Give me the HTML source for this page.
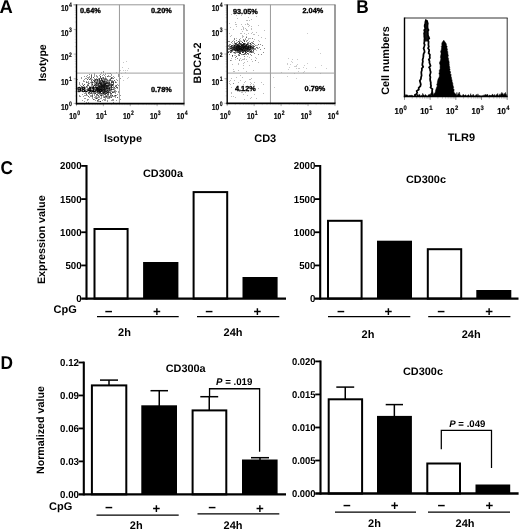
<!DOCTYPE html>
<html lang="en">
<head>
<meta charset="utf-8">
<title>Figure</title>
<style>
html,body{margin:0;padding:0;background:#fff;}
svg{display:block;font-family:"Liberation Sans", Arial, sans-serif;text-rendering:geometricPrecision;}
</style>
</head>
<body>
<svg width="520" height="529" viewBox="0 0 520 529">
<rect x="0" y="0" width="520" height="529" fill="#fff"/>
<text transform="translate(-0.40,12.70) scale(0.99,1)" font-size="18.6" font-weight="bold">A</text>
<text transform="translate(356.30,13.30) scale(0.93,1)" font-size="18.6" font-weight="bold">B</text>
<text transform="translate(0.40,174.20) scale(0.93,1)" font-size="18.6" font-weight="bold">C</text>
<text transform="translate(0.40,369.40) scale(0.93,1)" font-size="18.6" font-weight="bold">D</text>
<path d="M79 95.5h1M80 85.5h1M80 90.5h1M81 86.5h1M82 89.5h1M82 94.5h1M83 85.5h1M83 87.5h1M83 89.5h1M83 96.5h1M84 76.5h1M84 79.5h1M84 86.5h1M84 91.5h1M84 93.5h1M84 98.5h1M85 88.5h1M85 89.5h1M85 91.5h1M85 98.5h1M86 76.5h1M86 78.5h1M86 89.5h1M87 84.5h1M87 91.5h1M88 83.5h1M88 92.5h1M88 102.5h1M89 74.5h1M89 79.5h1M89 86.5h1M89 87.5h1M89 89.5h1M89 92.5h1M89 94.5h1M89 97.5h1M90 90.5h1M90 93.5h1M90 95.5h1M91 75.5h1M91 76.5h1M91 80.5h1M91 84.5h1M91 87.5h1M91 91.5h1M91 92.5h1M91 96.5h1M92 86.5h1M92 90.5h1M92 95.5h1M92 96.5h1M93 80.5h1M93 92.5h1M93 93.5h1M94 81.5h1M94 83.5h1M95 79.5h1M95 80.5h1M95 84.5h1M95 85.5h1M95 86.5h1M95 87.5h1M95 90.5h1M95 92.5h1M96 82.5h1M96 83.5h1M96 85.5h1M96 90.5h1M96 96.5h1M96 98.5h1M97 77.5h1M97 79.5h1M97 81.5h1M97 83.5h1M97 84.5h1M97 85.5h1M97 87.5h1M97 89.5h1M97 90.5h1M97 91.5h1M97 92.5h1M97 94.5h1M97 98.5h1M98 80.5h1M98 83.5h1M98 84.5h1M98 87.5h1M98 88.5h1M98 89.5h1M98 90.5h1M98 91.5h1M98 93.5h1M99 79.5h1M99 81.5h1M99 83.5h1M99 86.5h1M99 87.5h1M99 89.5h1M99 90.5h1M99 92.5h1M99 93.5h1M99 94.5h1M100 77.5h1M100 81.5h1M100 82.5h1M100 83.5h1M100 84.5h1M100 86.5h1M100 87.5h1M100 88.5h1M100 89.5h1M100 90.5h1M100 92.5h1M100 93.5h1M100 94.5h1M100 95.5h1M101 72.5h1M101 78.5h1M101 82.5h1M101 84.5h1M101 85.5h1M101 86.5h1M101 87.5h1M101 88.5h1M101 89.5h1M101 90.5h1M101 91.5h1M101 93.5h1M101 98.5h1M102 75.5h1M102 77.5h1M102 78.5h1M102 80.5h1M102 81.5h1M102 85.5h1M102 86.5h1M102 87.5h1M102 90.5h1M102 91.5h1M103 78.5h1M103 81.5h1M103 82.5h1M103 84.5h1M103 85.5h1M103 86.5h1M103 87.5h1M103 88.5h1M103 89.5h1M103 90.5h1M103 91.5h1M103 92.5h1M103 93.5h1M103 94.5h1M104 78.5h1M104 79.5h1M104 80.5h1M104 81.5h1M104 83.5h1M104 84.5h1M104 85.5h1M104 86.5h1M104 87.5h1M104 88.5h1M104 89.5h1M104 90.5h1M104 91.5h1M104 92.5h1M104 93.5h1M104 96.5h1M104 97.5h1M105 73.5h1M105 78.5h1M105 82.5h1M105 83.5h1M105 84.5h1M105 85.5h1M105 86.5h1M105 87.5h1M105 89.5h1M105 97.5h1M105 99.5h1M106 79.5h1M106 82.5h1M106 83.5h1M106 85.5h1M106 86.5h1M106 88.5h1M106 90.5h1M106 93.5h1M107 76.5h1M107 79.5h1M107 80.5h1M107 84.5h1M107 85.5h1M107 86.5h1M107 87.5h1M107 88.5h1M107 90.5h1M107 91.5h1M107 92.5h1M107 94.5h1M107 100.5h1M107 101.5h1M108 83.5h1M108 84.5h1M108 85.5h1M108 86.5h1M108 88.5h1M108 91.5h1M108 95.5h1M109 82.5h1M109 83.5h1M109 84.5h1M109 86.5h1M109 87.5h1M109 88.5h1M109 89.5h1M109 90.5h1M109 96.5h1M110 85.5h1M110 87.5h1M110 92.5h1M111 75.5h1M111 78.5h1M111 82.5h1M111 84.5h1M111 85.5h1M111 86.5h1M111 87.5h1M111 88.5h1M111 89.5h1M111 94.5h1M111 95.5h1M112 95.5h1M112 99.5h1M113 84.5h1M113 85.5h1M113 86.5h1M113 92.5h1M114 77.5h1M114 87.5h1M114 91.5h1M115 96.5h1M116 79.5h1M116 85.5h1M116 86.5h1M116 87.5h1M116 95.5h1M116 100.5h1M117 94.5h1M118 74.5h1M120 95.5h1" stroke="#000" stroke-width="1" stroke-opacity="0.4" fill="none"/>
<path d="M77 79.5h1M79 87.5h1M79 96.5h1M80 96.5h1M84 84.5h1M85 91.5h1M85 93.5h1M85 95.5h1M86 82.5h1M86 86.5h1M86 93.5h1M86 94.5h1M86 102.5h1M87 77.5h1M87 79.5h1M87 85.5h1M87 87.5h1M87 89.5h1M87 95.5h1M88 78.5h1M88 81.5h1M88 85.5h1M88 93.5h1M90 87.5h1M90 88.5h1M91 79.5h1M91 80.5h1M91 82.5h1M91 89.5h1M91 90.5h1M91 91.5h1M91 93.5h1M92 82.5h1M92 83.5h1M92 88.5h1M92 89.5h1M92 90.5h1M92 95.5h1M92 98.5h1M93 85.5h1M93 86.5h1M93 89.5h1M94 75.5h1M94 76.5h1M94 79.5h1M94 85.5h1M94 91.5h1M95 86.5h1M95 87.5h1M95 89.5h1M95 93.5h1M96 75.5h1M96 76.5h1M96 81.5h1M96 85.5h1M96 87.5h1M96 88.5h1M96 90.5h1M96 91.5h1M96 92.5h1M96 94.5h1M96 95.5h1M96 97.5h1M97 76.5h1M97 79.5h1M97 80.5h1M97 81.5h1M97 82.5h1M97 88.5h1M97 89.5h1M98 82.5h1M98 83.5h1M98 84.5h1M98 85.5h1M98 86.5h1M98 87.5h1M98 88.5h1M98 90.5h1M98 91.5h1M98 92.5h1M98 93.5h1M98 95.5h1M98 96.5h1M98 99.5h1M98 101.5h1M99 75.5h1M99 80.5h1M99 81.5h1M99 82.5h1M99 84.5h1M99 86.5h1M99 87.5h1M99 88.5h1M99 89.5h1M99 90.5h1M99 91.5h1M99 101.5h1M100 80.5h1M100 81.5h1M100 82.5h1M100 83.5h1M100 84.5h1M100 85.5h1M100 89.5h1M100 91.5h1M100 93.5h1M101 78.5h1M101 79.5h1M101 82.5h1M101 83.5h1M101 84.5h1M101 85.5h1M101 86.5h1M101 87.5h1M101 88.5h1M101 89.5h1M101 90.5h1M101 91.5h1M101 93.5h1M101 95.5h1M101 96.5h1M101 97.5h1M102 80.5h1M102 81.5h1M102 83.5h1M102 84.5h1M102 85.5h1M102 86.5h1M102 87.5h1M102 88.5h1M102 89.5h1M102 90.5h1M102 92.5h1M102 93.5h1M102 94.5h1M103 81.5h1M103 83.5h1M103 84.5h1M103 85.5h1M103 86.5h1M103 87.5h1M103 89.5h1M103 91.5h1M103 92.5h1M103 93.5h1M103 95.5h1M104 81.5h1M104 82.5h1M104 84.5h1M104 85.5h1M104 86.5h1M104 87.5h1M104 88.5h1M104 89.5h1M104 90.5h1M104 91.5h1M104 92.5h1M104 93.5h1M104 100.5h1M105 76.5h1M105 77.5h1M105 79.5h1M105 83.5h1M105 84.5h1M105 85.5h1M105 86.5h1M105 89.5h1M105 90.5h1M105 91.5h1M105 92.5h1M105 93.5h1M105 95.5h1M105 96.5h1M106 79.5h1M106 81.5h1M106 82.5h1M106 83.5h1M106 84.5h1M106 85.5h1M106 86.5h1M106 87.5h1M106 88.5h1M106 90.5h1M106 91.5h1M106 93.5h1M106 95.5h1M106 96.5h1M106 97.5h1M107 80.5h1M107 82.5h1M107 83.5h1M107 86.5h1M107 87.5h1M107 88.5h1M107 89.5h1M107 92.5h1M107 93.5h1M107 97.5h1M107 98.5h1M108 73.5h1M108 75.5h1M108 76.5h1M108 82.5h1M108 85.5h1M108 86.5h1M108 87.5h1M108 89.5h1M108 90.5h1M108 91.5h1M108 92.5h1M108 96.5h1M108 98.5h1M109 80.5h1M109 83.5h1M109 85.5h1M109 87.5h1M109 88.5h1M109 89.5h1M109 90.5h1M110 73.5h1M110 78.5h1M110 79.5h1M110 80.5h1M110 86.5h1M110 89.5h1M110 90.5h1M110 91.5h1M110 93.5h1M110 94.5h1M111 77.5h1M111 82.5h1M111 83.5h1M111 86.5h1M111 93.5h1M111 96.5h1M111 97.5h1M112 77.5h1M112 78.5h1M112 81.5h1M112 84.5h1M112 89.5h1M112 92.5h1M112 100.5h1M113 78.5h1M113 81.5h1M113 83.5h1M113 89.5h1M113 92.5h1M113 96.5h1M113 99.5h1M114 80.5h1M114 87.5h1M115 81.5h1M115 92.5h1M115 95.5h1M116 87.5h1M117 80.5h1M117 87.5h1M117 88.5h1M120 99.5h1" stroke="#000" stroke-width="1" stroke-opacity="0.4" fill="none"/>
<path d="M79 83.5h1M82 86.5h1M83 80.5h1M84 84.5h1M84 87.5h1M84 88.5h1M84 90.5h1M86 82.5h1M86 87.5h1M87 75.5h1M87 79.5h1M87 86.5h1M87 88.5h1M87 89.5h1M88 83.5h1M88 84.5h1M88 85.5h1M88 88.5h1M88 90.5h1M88 92.5h1M88 93.5h1M88 96.5h1M89 76.5h1M89 77.5h1M90 78.5h1M90 87.5h1M91 75.5h1M91 76.5h1M91 77.5h1M91 82.5h1M91 86.5h1M91 95.5h1M92 81.5h1M92 84.5h1M92 91.5h1M93 77.5h1M93 86.5h1M93 87.5h1M93 88.5h1M93 90.5h1M94 78.5h1M94 81.5h1M94 85.5h1M94 88.5h1M94 94.5h1M94 97.5h1M95 85.5h1M95 90.5h1M95 91.5h1M95 93.5h1M95 97.5h1M95 98.5h1M96 80.5h1M96 82.5h1M96 83.5h1M96 85.5h1M96 88.5h1M96 90.5h1M96 98.5h1M97 80.5h1M97 82.5h1M97 86.5h1M97 88.5h1M97 89.5h1M97 90.5h1M97 91.5h1M97 93.5h1M97 97.5h1M97 100.5h1M97 101.5h1M98 78.5h1M98 83.5h1M98 85.5h1M98 86.5h1M98 88.5h1M98 91.5h1M98 97.5h1M98 99.5h1M99 78.5h1M99 79.5h1M99 80.5h1M99 81.5h1M99 82.5h1M99 83.5h1M99 85.5h1M99 86.5h1M99 87.5h1M99 90.5h1M99 92.5h1M99 99.5h1M100 74.5h1M100 76.5h1M100 83.5h1M100 84.5h1M100 85.5h1M100 86.5h1M100 87.5h1M100 88.5h1M100 89.5h1M100 92.5h1M100 101.5h1M101 73.5h1M101 79.5h1M101 80.5h1M101 81.5h1M101 83.5h1M101 84.5h1M101 85.5h1M101 86.5h1M101 87.5h1M101 88.5h1M101 93.5h1M101 94.5h1M101 95.5h1M102 80.5h1M102 82.5h1M102 84.5h1M102 85.5h1M102 86.5h1M102 87.5h1M102 88.5h1M102 89.5h1M102 90.5h1M102 91.5h1M103 77.5h1M103 78.5h1M103 81.5h1M103 82.5h1M103 83.5h1M103 84.5h1M103 85.5h1M103 86.5h1M103 87.5h1M103 88.5h1M103 89.5h1M103 90.5h1M103 92.5h1M103 97.5h1M104 80.5h1M104 82.5h1M104 83.5h1M104 84.5h1M104 85.5h1M104 86.5h1M104 87.5h1M104 88.5h1M104 89.5h1M104 90.5h1M104 91.5h1M104 94.5h1M104 99.5h1M105 81.5h1M105 82.5h1M105 83.5h1M105 84.5h1M105 86.5h1M105 87.5h1M105 88.5h1M105 91.5h1M105 96.5h1M105 98.5h1M106 80.5h1M106 82.5h1M106 83.5h1M106 85.5h1M106 86.5h1M106 87.5h1M106 88.5h1M106 89.5h1M106 91.5h1M106 92.5h1M106 93.5h1M106 96.5h1M107 73.5h1M107 83.5h1M107 85.5h1M107 86.5h1M107 87.5h1M107 88.5h1M107 90.5h1M107 92.5h1M107 94.5h1M108 81.5h1M108 83.5h1M108 87.5h1M108 88.5h1M108 90.5h1M108 92.5h1M108 93.5h1M108 94.5h1M109 76.5h1M109 79.5h1M109 80.5h1M109 81.5h1M109 88.5h1M109 90.5h1M109 92.5h1M109 96.5h1M110 73.5h1M110 76.5h1M110 80.5h1M110 84.5h1M110 85.5h1M110 89.5h1M110 96.5h1M110 97.5h1M111 74.5h1M111 80.5h1M111 84.5h1M111 86.5h1M111 87.5h1M111 88.5h1M111 89.5h1M111 90.5h1M111 100.5h1M112 82.5h1M112 85.5h1M112 87.5h1M112 89.5h1M112 91.5h1M112 92.5h1M112 95.5h1M113 82.5h1M113 84.5h1M113 100.5h1M114 88.5h1M114 89.5h1M114 96.5h1M115 85.5h1M115 86.5h1M115 91.5h1M115 93.5h1M115 95.5h1M116 82.5h1M117 97.5h1M118 76.5h1M119 79.5h1M119 89.5h1M120 78.5h1" stroke="#000" stroke-width="1" stroke-opacity="0.4" fill="none"/>
<path d="M79 82.5h1M79 84.5h1M81 78.5h1M82 84.5h1M82 87.5h1M82 100.5h1M83 85.5h1M84 81.5h1M84 88.5h1M84 91.5h1M84 95.5h1M84 101.5h1M85 78.5h1M85 87.5h1M85 90.5h1M85 91.5h1M85 92.5h1M86 81.5h1M86 91.5h1M86 94.5h1M87 82.5h1M87 90.5h1M87 100.5h1M88 77.5h1M88 96.5h1M89 79.5h1M89 83.5h1M89 88.5h1M89 89.5h1M89 91.5h1M89 92.5h1M89 93.5h1M90 90.5h1M90 93.5h1M91 74.5h1M91 77.5h1M91 78.5h1M91 81.5h1M91 85.5h1M91 87.5h1M91 88.5h1M91 93.5h1M92 79.5h1M92 82.5h1M92 84.5h1M92 85.5h1M92 91.5h1M92 93.5h1M93 77.5h1M93 82.5h1M93 86.5h1M93 90.5h1M93 91.5h1M93 99.5h1M94 74.5h1M94 80.5h1M94 81.5h1M94 82.5h1M94 85.5h1M94 93.5h1M94 99.5h1M95 79.5h1M95 80.5h1M95 82.5h1M95 83.5h1M95 84.5h1M95 89.5h1M95 90.5h1M95 93.5h1M95 96.5h1M96 78.5h1M96 79.5h1M96 83.5h1M96 84.5h1M96 86.5h1M96 87.5h1M96 88.5h1M96 98.5h1M97 79.5h1M97 83.5h1M97 85.5h1M97 87.5h1M97 88.5h1M97 92.5h1M97 95.5h1M98 79.5h1M98 84.5h1M98 86.5h1M98 87.5h1M98 88.5h1M98 95.5h1M98 100.5h1M99 79.5h1M99 82.5h1M99 83.5h1M99 85.5h1M99 86.5h1M99 91.5h1M99 92.5h1M99 97.5h1M100 76.5h1M100 81.5h1M100 82.5h1M100 83.5h1M100 84.5h1M100 86.5h1M100 88.5h1M100 91.5h1M100 92.5h1M100 98.5h1M100 101.5h1M101 78.5h1M101 80.5h1M101 83.5h1M101 84.5h1M101 85.5h1M101 86.5h1M101 87.5h1M101 89.5h1M101 95.5h1M102 80.5h1M102 81.5h1M102 83.5h1M102 85.5h1M102 86.5h1M102 88.5h1M102 89.5h1M102 90.5h1M102 91.5h1M102 95.5h1M103 71.5h1M103 74.5h1M103 77.5h1M103 79.5h1M103 81.5h1M103 82.5h1M103 83.5h1M103 85.5h1M103 86.5h1M103 87.5h1M103 88.5h1M103 89.5h1M103 90.5h1M103 91.5h1M103 92.5h1M103 93.5h1M103 96.5h1M104 79.5h1M104 81.5h1M104 82.5h1M104 83.5h1M104 84.5h1M104 85.5h1M104 86.5h1M104 87.5h1M104 88.5h1M104 89.5h1M104 90.5h1M104 91.5h1M104 92.5h1M104 94.5h1M104 97.5h1M105 74.5h1M105 83.5h1M105 84.5h1M105 85.5h1M105 86.5h1M105 87.5h1M105 88.5h1M105 89.5h1M105 90.5h1M105 91.5h1M105 92.5h1M105 93.5h1M105 94.5h1M105 100.5h1M106 83.5h1M106 85.5h1M106 86.5h1M106 87.5h1M106 88.5h1M106 89.5h1M106 91.5h1M106 93.5h1M106 96.5h1M107 76.5h1M107 82.5h1M107 85.5h1M107 88.5h1M107 90.5h1M107 92.5h1M107 95.5h1M108 80.5h1M108 82.5h1M108 83.5h1M108 84.5h1M108 85.5h1M108 86.5h1M108 88.5h1M108 91.5h1M108 92.5h1M108 93.5h1M108 97.5h1M109 73.5h1M109 82.5h1M109 84.5h1M109 85.5h1M109 87.5h1M109 88.5h1M109 89.5h1M109 91.5h1M109 97.5h1M109 98.5h1M110 84.5h1M110 88.5h1M110 93.5h1M110 95.5h1M111 77.5h1M111 78.5h1M111 81.5h1M111 82.5h1M111 84.5h1M111 85.5h1M111 89.5h1M111 93.5h1M112 80.5h1M112 84.5h1M112 85.5h1M112 92.5h1M113 76.5h1M113 82.5h1M113 102.5h1M114 80.5h1M114 90.5h1M114 92.5h1M114 95.5h1M115 82.5h1M115 95.5h1M115 97.5h1M116 85.5h1M116 91.5h1M117 87.5h1M117 97.5h1M118 75.5h1M118 85.5h1M118 92.5h1" stroke="#000" stroke-width="1" stroke-opacity="0.4" fill="none"/>
<path d="M79 87.5h1M79 88.5h1M81 77.5h1M81 86.5h1M81 87.5h1M82 83.5h1M82 88.5h1M82 90.5h1M83 81.5h1M83 85.5h1M85 90.5h1M86 86.5h1M86 95.5h1M87 85.5h1M87 99.5h1M88 82.5h1M88 99.5h1M89 90.5h1M89 92.5h1M90 78.5h1M90 79.5h1M90 82.5h1M90 90.5h1M90 96.5h1M91 83.5h1M91 92.5h1M92 82.5h1M92 84.5h1M92 87.5h1M92 88.5h1M92 90.5h1M92 94.5h1M92 96.5h1M92 97.5h1M93 80.5h1M93 88.5h1M93 89.5h1M93 90.5h1M93 99.5h1M94 73.5h1M94 80.5h1M94 81.5h1M94 84.5h1M94 85.5h1M94 87.5h1M94 89.5h1M94 92.5h1M94 93.5h1M94 95.5h1M95 79.5h1M95 81.5h1M95 82.5h1M95 84.5h1M95 87.5h1M95 90.5h1M95 91.5h1M95 100.5h1M96 79.5h1M96 82.5h1M96 83.5h1M96 84.5h1M96 88.5h1M96 89.5h1M96 90.5h1M96 94.5h1M97 80.5h1M97 84.5h1M97 87.5h1M97 88.5h1M97 90.5h1M97 94.5h1M97 100.5h1M98 81.5h1M98 85.5h1M98 86.5h1M98 89.5h1M98 90.5h1M98 91.5h1M98 92.5h1M99 78.5h1M99 79.5h1M99 80.5h1M99 82.5h1M99 83.5h1M99 85.5h1M99 86.5h1M99 89.5h1M99 90.5h1M99 91.5h1M99 92.5h1M99 93.5h1M99 96.5h1M100 76.5h1M100 77.5h1M100 78.5h1M100 80.5h1M100 83.5h1M100 85.5h1M100 86.5h1M100 89.5h1M100 90.5h1M100 91.5h1M100 92.5h1M100 95.5h1M100 101.5h1M101 78.5h1M101 79.5h1M101 80.5h1M101 82.5h1M101 83.5h1M101 84.5h1M101 85.5h1M101 86.5h1M101 87.5h1M101 88.5h1M101 89.5h1M101 90.5h1M101 91.5h1M102 79.5h1M102 81.5h1M102 82.5h1M102 84.5h1M102 85.5h1M102 86.5h1M102 87.5h1M102 88.5h1M102 89.5h1M102 90.5h1M102 92.5h1M102 93.5h1M102 100.5h1M103 72.5h1M103 80.5h1M103 82.5h1M103 84.5h1M103 85.5h1M103 86.5h1M103 87.5h1M103 89.5h1M103 93.5h1M103 99.5h1M104 75.5h1M104 81.5h1M104 83.5h1M104 84.5h1M104 85.5h1M104 86.5h1M104 87.5h1M104 88.5h1M104 89.5h1M104 90.5h1M104 92.5h1M105 78.5h1M105 79.5h1M105 80.5h1M105 81.5h1M105 83.5h1M105 84.5h1M105 85.5h1M105 88.5h1M105 89.5h1M105 90.5h1M105 91.5h1M105 93.5h1M105 94.5h1M106 78.5h1M106 81.5h1M106 85.5h1M106 87.5h1M106 88.5h1M106 91.5h1M106 92.5h1M107 81.5h1M107 82.5h1M107 83.5h1M107 85.5h1M107 86.5h1M107 88.5h1M107 89.5h1M107 90.5h1M107 91.5h1M107 92.5h1M107 96.5h1M108 85.5h1M108 89.5h1M108 94.5h1M109 82.5h1M109 83.5h1M109 84.5h1M109 85.5h1M109 88.5h1M109 92.5h1M109 97.5h1M110 79.5h1M110 83.5h1M110 87.5h1M110 90.5h1M110 92.5h1M110 95.5h1M111 78.5h1M111 81.5h1M111 85.5h1M111 86.5h1M111 87.5h1M111 89.5h1M111 91.5h1M111 97.5h1M112 81.5h1M112 82.5h1M112 84.5h1M112 85.5h1M112 87.5h1M112 95.5h1M112 96.5h1M113 81.5h1M113 82.5h1M113 83.5h1M113 87.5h1M113 88.5h1M113 89.5h1M113 91.5h1M114 91.5h1M115 82.5h1M115 86.5h1M115 88.5h1M115 90.5h1M117 84.5h1M118 91.5h1" stroke="#000" stroke-width="1" stroke-opacity="0.4" fill="none"/>
<path d="M113 78.5h1M116 72.5h1M120 70.5h1M121 73.5h1M122 67.5h1M122 76.5h1M123 62.5h1M123 70.5h1M123 80.5h1M125 70.5h1M125 72.5h1M126 61.5h1M127 70.5h1M127 78.5h1M128 68.5h1M128 77.5h1" stroke="#000" stroke-width="1" stroke-opacity="0.22" fill="none"/>
<line x1="73.50" y1="4.80" x2="184.50" y2="4.80" stroke="#989898" stroke-width="1" />
<line x1="184.00" y1="4.80" x2="184.00" y2="103.40" stroke="#5c5c5c" stroke-width="1.2" />
<line x1="119.45" y1="4.80" x2="119.45" y2="103.40" stroke="#9a9a9a" stroke-width="1" />
<line x1="76.50" y1="73.10" x2="184.00" y2="73.10" stroke="#a0a0a0" stroke-width="1" />
<line x1="76.50" y1="103.40" x2="76.50" y2="106.20" stroke="#a8a8a8" stroke-width="0.9" />
<line x1="73.70" y1="103.40" x2="76.50" y2="103.40" stroke="#a8a8a8" stroke-width="0.9" />
<line x1="84.59" y1="103.40" x2="84.59" y2="105.20" stroke="#d4d4d4" stroke-width="0.7" />
<line x1="74.70" y1="95.98" x2="76.50" y2="95.98" stroke="#d4d4d4" stroke-width="0.7" />
<line x1="89.32" y1="103.40" x2="89.32" y2="105.20" stroke="#d4d4d4" stroke-width="0.7" />
<line x1="74.70" y1="91.64" x2="76.50" y2="91.64" stroke="#d4d4d4" stroke-width="0.7" />
<line x1="92.68" y1="103.40" x2="92.68" y2="105.20" stroke="#d4d4d4" stroke-width="0.7" />
<line x1="74.70" y1="88.56" x2="76.50" y2="88.56" stroke="#d4d4d4" stroke-width="0.7" />
<line x1="95.28" y1="103.40" x2="95.28" y2="105.20" stroke="#d4d4d4" stroke-width="0.7" />
<line x1="74.70" y1="86.17" x2="76.50" y2="86.17" stroke="#d4d4d4" stroke-width="0.7" />
<line x1="97.41" y1="103.40" x2="97.41" y2="105.20" stroke="#d4d4d4" stroke-width="0.7" />
<line x1="74.70" y1="84.22" x2="76.50" y2="84.22" stroke="#d4d4d4" stroke-width="0.7" />
<line x1="99.21" y1="103.40" x2="99.21" y2="105.20" stroke="#d4d4d4" stroke-width="0.7" />
<line x1="74.70" y1="82.57" x2="76.50" y2="82.57" stroke="#d4d4d4" stroke-width="0.7" />
<line x1="100.77" y1="103.40" x2="100.77" y2="105.20" stroke="#d4d4d4" stroke-width="0.7" />
<line x1="74.70" y1="81.14" x2="76.50" y2="81.14" stroke="#d4d4d4" stroke-width="0.7" />
<line x1="102.15" y1="103.40" x2="102.15" y2="105.20" stroke="#d4d4d4" stroke-width="0.7" />
<line x1="74.70" y1="79.88" x2="76.50" y2="79.88" stroke="#d4d4d4" stroke-width="0.7" />
<text transform="translate(76.80,119.00) scale(0.79,1)" font-size="8.6" text-anchor="end" font-weight="bold" stroke="#000" stroke-width="0.2">10</text>
<text transform="translate(77.15,115.30) scale(0.79,1)" font-size="6.54" text-anchor="start" font-weight="bold" stroke="#000" stroke-width="0.15">0</text>
<text transform="translate(68.60,109.70) scale(0.79,1)" font-size="8.6" text-anchor="end" font-weight="bold" stroke="#000" stroke-width="0.2">10</text>
<text transform="translate(68.95,106.00) scale(0.79,1)" font-size="6.54" text-anchor="start" font-weight="bold" stroke="#000" stroke-width="0.15">0</text>
<line x1="103.38" y1="103.40" x2="103.38" y2="106.20" stroke="#a8a8a8" stroke-width="0.9" />
<line x1="73.70" y1="78.75" x2="76.50" y2="78.75" stroke="#a8a8a8" stroke-width="0.9" />
<line x1="111.47" y1="103.40" x2="111.47" y2="105.20" stroke="#d4d4d4" stroke-width="0.7" />
<line x1="74.70" y1="71.33" x2="76.50" y2="71.33" stroke="#d4d4d4" stroke-width="0.7" />
<line x1="116.20" y1="103.40" x2="116.20" y2="105.20" stroke="#d4d4d4" stroke-width="0.7" />
<line x1="74.70" y1="66.99" x2="76.50" y2="66.99" stroke="#d4d4d4" stroke-width="0.7" />
<line x1="119.56" y1="103.40" x2="119.56" y2="105.20" stroke="#d4d4d4" stroke-width="0.7" />
<line x1="74.70" y1="63.91" x2="76.50" y2="63.91" stroke="#d4d4d4" stroke-width="0.7" />
<line x1="122.16" y1="103.40" x2="122.16" y2="105.20" stroke="#d4d4d4" stroke-width="0.7" />
<line x1="74.70" y1="61.52" x2="76.50" y2="61.52" stroke="#d4d4d4" stroke-width="0.7" />
<line x1="124.29" y1="103.40" x2="124.29" y2="105.20" stroke="#d4d4d4" stroke-width="0.7" />
<line x1="74.70" y1="59.57" x2="76.50" y2="59.57" stroke="#d4d4d4" stroke-width="0.7" />
<line x1="126.09" y1="103.40" x2="126.09" y2="105.20" stroke="#d4d4d4" stroke-width="0.7" />
<line x1="74.70" y1="57.92" x2="76.50" y2="57.92" stroke="#d4d4d4" stroke-width="0.7" />
<line x1="127.65" y1="103.40" x2="127.65" y2="105.20" stroke="#d4d4d4" stroke-width="0.7" />
<line x1="74.70" y1="56.49" x2="76.50" y2="56.49" stroke="#d4d4d4" stroke-width="0.7" />
<line x1="129.02" y1="103.40" x2="129.02" y2="105.20" stroke="#d4d4d4" stroke-width="0.7" />
<line x1="74.70" y1="55.23" x2="76.50" y2="55.23" stroke="#d4d4d4" stroke-width="0.7" />
<text transform="translate(103.67,119.00) scale(0.79,1)" font-size="8.6" text-anchor="end" font-weight="bold" stroke="#000" stroke-width="0.2">10</text>
<text transform="translate(104.02,115.30) scale(0.79,1)" font-size="6.54" text-anchor="start" font-weight="bold" stroke="#000" stroke-width="0.15">1</text>
<text transform="translate(68.60,85.05) scale(0.79,1)" font-size="8.6" text-anchor="end" font-weight="bold" stroke="#000" stroke-width="0.2">10</text>
<text transform="translate(68.95,81.35) scale(0.79,1)" font-size="6.54" text-anchor="start" font-weight="bold" stroke="#000" stroke-width="0.15">1</text>
<line x1="130.25" y1="103.40" x2="130.25" y2="106.20" stroke="#a8a8a8" stroke-width="0.9" />
<line x1="73.70" y1="54.10" x2="76.50" y2="54.10" stroke="#a8a8a8" stroke-width="0.9" />
<line x1="138.34" y1="103.40" x2="138.34" y2="105.20" stroke="#d4d4d4" stroke-width="0.7" />
<line x1="74.70" y1="46.68" x2="76.50" y2="46.68" stroke="#d4d4d4" stroke-width="0.7" />
<line x1="143.07" y1="103.40" x2="143.07" y2="105.20" stroke="#d4d4d4" stroke-width="0.7" />
<line x1="74.70" y1="42.34" x2="76.50" y2="42.34" stroke="#d4d4d4" stroke-width="0.7" />
<line x1="146.43" y1="103.40" x2="146.43" y2="105.20" stroke="#d4d4d4" stroke-width="0.7" />
<line x1="74.70" y1="39.26" x2="76.50" y2="39.26" stroke="#d4d4d4" stroke-width="0.7" />
<line x1="149.03" y1="103.40" x2="149.03" y2="105.20" stroke="#d4d4d4" stroke-width="0.7" />
<line x1="74.70" y1="36.87" x2="76.50" y2="36.87" stroke="#d4d4d4" stroke-width="0.7" />
<line x1="151.16" y1="103.40" x2="151.16" y2="105.20" stroke="#d4d4d4" stroke-width="0.7" />
<line x1="74.70" y1="34.92" x2="76.50" y2="34.92" stroke="#d4d4d4" stroke-width="0.7" />
<line x1="152.96" y1="103.40" x2="152.96" y2="105.20" stroke="#d4d4d4" stroke-width="0.7" />
<line x1="74.70" y1="33.27" x2="76.50" y2="33.27" stroke="#d4d4d4" stroke-width="0.7" />
<line x1="154.52" y1="103.40" x2="154.52" y2="105.20" stroke="#d4d4d4" stroke-width="0.7" />
<line x1="74.70" y1="31.84" x2="76.50" y2="31.84" stroke="#d4d4d4" stroke-width="0.7" />
<line x1="155.90" y1="103.40" x2="155.90" y2="105.20" stroke="#d4d4d4" stroke-width="0.7" />
<line x1="74.70" y1="30.58" x2="76.50" y2="30.58" stroke="#d4d4d4" stroke-width="0.7" />
<text transform="translate(130.55,119.00) scale(0.79,1)" font-size="8.6" text-anchor="end" font-weight="bold" stroke="#000" stroke-width="0.2">10</text>
<text transform="translate(130.90,115.30) scale(0.79,1)" font-size="6.54" text-anchor="start" font-weight="bold" stroke="#000" stroke-width="0.15">2</text>
<text transform="translate(68.60,60.40) scale(0.79,1)" font-size="8.6" text-anchor="end" font-weight="bold" stroke="#000" stroke-width="0.2">10</text>
<text transform="translate(68.95,56.70) scale(0.79,1)" font-size="6.54" text-anchor="start" font-weight="bold" stroke="#000" stroke-width="0.15">2</text>
<line x1="157.12" y1="103.40" x2="157.12" y2="106.20" stroke="#a8a8a8" stroke-width="0.9" />
<line x1="73.70" y1="29.45" x2="76.50" y2="29.45" stroke="#a8a8a8" stroke-width="0.9" />
<line x1="165.22" y1="103.40" x2="165.22" y2="105.20" stroke="#d4d4d4" stroke-width="0.7" />
<line x1="74.70" y1="22.03" x2="76.50" y2="22.03" stroke="#d4d4d4" stroke-width="0.7" />
<line x1="169.95" y1="103.40" x2="169.95" y2="105.20" stroke="#d4d4d4" stroke-width="0.7" />
<line x1="74.70" y1="17.69" x2="76.50" y2="17.69" stroke="#d4d4d4" stroke-width="0.7" />
<line x1="173.31" y1="103.40" x2="173.31" y2="105.20" stroke="#d4d4d4" stroke-width="0.7" />
<line x1="74.70" y1="14.61" x2="76.50" y2="14.61" stroke="#d4d4d4" stroke-width="0.7" />
<line x1="175.91" y1="103.40" x2="175.91" y2="105.20" stroke="#d4d4d4" stroke-width="0.7" />
<line x1="74.70" y1="12.22" x2="76.50" y2="12.22" stroke="#d4d4d4" stroke-width="0.7" />
<line x1="178.04" y1="103.40" x2="178.04" y2="105.20" stroke="#d4d4d4" stroke-width="0.7" />
<line x1="74.70" y1="10.27" x2="76.50" y2="10.27" stroke="#d4d4d4" stroke-width="0.7" />
<line x1="179.84" y1="103.40" x2="179.84" y2="105.20" stroke="#d4d4d4" stroke-width="0.7" />
<line x1="74.70" y1="8.62" x2="76.50" y2="8.62" stroke="#d4d4d4" stroke-width="0.7" />
<line x1="181.40" y1="103.40" x2="181.40" y2="105.20" stroke="#d4d4d4" stroke-width="0.7" />
<line x1="74.70" y1="7.19" x2="76.50" y2="7.19" stroke="#d4d4d4" stroke-width="0.7" />
<line x1="182.77" y1="103.40" x2="182.77" y2="105.20" stroke="#d4d4d4" stroke-width="0.7" />
<line x1="74.70" y1="5.93" x2="76.50" y2="5.93" stroke="#d4d4d4" stroke-width="0.7" />
<text transform="translate(157.43,119.00) scale(0.79,1)" font-size="8.6" text-anchor="end" font-weight="bold" stroke="#000" stroke-width="0.2">10</text>
<text transform="translate(157.78,115.30) scale(0.79,1)" font-size="6.54" text-anchor="start" font-weight="bold" stroke="#000" stroke-width="0.15">3</text>
<text transform="translate(68.60,35.75) scale(0.79,1)" font-size="8.6" text-anchor="end" font-weight="bold" stroke="#000" stroke-width="0.2">10</text>
<text transform="translate(68.95,32.05) scale(0.79,1)" font-size="6.54" text-anchor="start" font-weight="bold" stroke="#000" stroke-width="0.15">3</text>
<line x1="184.00" y1="103.40" x2="184.00" y2="106.20" stroke="#a8a8a8" stroke-width="0.9" />
<line x1="73.70" y1="4.80" x2="76.50" y2="4.80" stroke="#a8a8a8" stroke-width="0.9" />
<text transform="translate(184.30,119.00) scale(0.79,1)" font-size="8.6" text-anchor="end" font-weight="bold" stroke="#000" stroke-width="0.2">10</text>
<text transform="translate(184.65,115.30) scale(0.79,1)" font-size="6.54" text-anchor="start" font-weight="bold" stroke="#000" stroke-width="0.15">4</text>
<text transform="translate(68.60,11.10) scale(0.79,1)" font-size="8.6" text-anchor="end" font-weight="bold" stroke="#000" stroke-width="0.2">10</text>
<text transform="translate(68.95,7.40) scale(0.79,1)" font-size="6.54" text-anchor="start" font-weight="bold" stroke="#000" stroke-width="0.15">4</text>
<line x1="76.50" y1="4.40" x2="76.50" y2="104.40" stroke="#000" stroke-width="1.4" />
<line x1="75.80" y1="103.55" x2="184.50" y2="103.55" stroke="#000" stroke-width="1.7" />
<text x="80.00" y="13.20" font-size="7.3" text-anchor="start" font-weight="bold" fill="#000"  stroke="#000" stroke-width="0.35">0.64%</text>
<text x="151.00" y="13.20" font-size="7.3" text-anchor="start" font-weight="bold" fill="#000"  stroke="#000" stroke-width="0.35">0.20%</text>
<text x="151.00" y="91.50" font-size="7.3" text-anchor="start" font-weight="bold" fill="#000"  stroke="#000" stroke-width="0.35">0.78%</text>
<text x="77.30" y="91.50" font-size="7.3" text-anchor="start" font-weight="bold" fill="#000"  stroke="#000" stroke-width="0.35">98.41%</text>
<text transform="translate(45.80,62.80) rotate(-90)" font-size="10.6" text-anchor="middle" font-weight="bold">Isotype</text>
<text x="123.00" y="142.30" font-size="10.9" text-anchor="middle" font-weight="bold" fill="#000" >Isotype</text>
<path d="M228 51.5h1M228 52.5h1M229 44.5h1M229 46.5h1M229 47.5h1M230 44.5h1M230 50.5h1M231 47.5h1M231 48.5h1M231 51.5h1M231 52.5h1M232 45.5h1M232 50.5h1M232 55.5h1M233 46.5h1M233 47.5h1M233 48.5h1M233 52.5h1M234 45.5h1M234 46.5h1M234 47.5h1M234 49.5h1M234 50.5h1M234 52.5h1M235 43.5h1M235 44.5h1M235 45.5h1M235 47.5h1M235 50.5h1M236 43.5h1M236 44.5h1M236 45.5h1M236 46.5h1M236 47.5h1M236 48.5h1M236 49.5h1M237 44.5h1M237 46.5h1M237 47.5h1M237 48.5h1M237 49.5h1M237 50.5h1M238 41.5h1M238 45.5h1M238 46.5h1M238 47.5h1M238 48.5h1M238 49.5h1M238 50.5h1M238 54.5h1M239 43.5h1M239 46.5h1M239 47.5h1M239 48.5h1M239 49.5h1M239 51.5h1M239 53.5h1M240 43.5h1M240 46.5h1M240 47.5h1M240 48.5h1M240 49.5h1M240 52.5h1M241 44.5h1M241 45.5h1M241 46.5h1M241 47.5h1M241 48.5h1M241 49.5h1M241 54.5h1M242 44.5h1M242 45.5h1M242 47.5h1M242 49.5h1M242 50.5h1M243 43.5h1M243 44.5h1M243 46.5h1M243 47.5h1M243 48.5h1M243 50.5h1M243 51.5h1M243 54.5h1M244 43.5h1M244 44.5h1M244 45.5h1M244 46.5h1M244 47.5h1M244 49.5h1M244 54.5h1M244 56.5h1M245 45.5h1M245 46.5h1M245 47.5h1M245 48.5h1M245 49.5h1M245 50.5h1M245 51.5h1M246 45.5h1M246 47.5h1M246 48.5h1M246 49.5h1M246 50.5h1M246 52.5h1M247 44.5h1M247 45.5h1M247 46.5h1M247 47.5h1M247 48.5h1M247 49.5h1M247 51.5h1M248 46.5h1M248 47.5h1M248 48.5h1M248 49.5h1M249 49.5h1M249 50.5h1M250 46.5h1M250 47.5h1M250 49.5h1M250 51.5h1M250 52.5h1M251 46.5h1M251 48.5h1M251 50.5h1M251 51.5h1M251 55.5h1M252 45.5h1M252 47.5h1M252 48.5h1M252 49.5h1M255 45.5h1M255 60.5h1M256 47.5h1M260 44.5h1M264 48.5h1" stroke="#000" stroke-width="1" stroke-opacity="0.46" fill="none"/>
<path d="M228 41.5h1M228 45.5h1M228 48.5h1M228 49.5h1M230 48.5h1M230 51.5h1M230 52.5h1M231 42.5h1M231 46.5h1M231 47.5h1M231 49.5h1M231 50.5h1M232 41.5h1M232 45.5h1M232 48.5h1M232 49.5h1M232 50.5h1M233 46.5h1M233 48.5h1M233 49.5h1M234 39.5h1M234 43.5h1M234 45.5h1M234 47.5h1M234 48.5h1M234 49.5h1M235 48.5h1M235 49.5h1M235 50.5h1M235 51.5h1M235 52.5h1M235 53.5h1M236 43.5h1M236 46.5h1M236 47.5h1M236 48.5h1M236 49.5h1M236 50.5h1M237 42.5h1M237 44.5h1M237 45.5h1M237 46.5h1M237 48.5h1M237 49.5h1M237 50.5h1M238 45.5h1M238 46.5h1M238 47.5h1M238 48.5h1M238 49.5h1M238 50.5h1M238 51.5h1M238 52.5h1M239 41.5h1M239 44.5h1M239 45.5h1M239 46.5h1M239 48.5h1M239 49.5h1M239 50.5h1M239 52.5h1M240 44.5h1M240 47.5h1M240 48.5h1M240 50.5h1M240 51.5h1M240 53.5h1M241 45.5h1M241 46.5h1M241 47.5h1M241 49.5h1M241 50.5h1M242 42.5h1M242 44.5h1M242 45.5h1M242 46.5h1M242 47.5h1M242 48.5h1M242 49.5h1M242 50.5h1M242 52.5h1M243 39.5h1M243 47.5h1M243 48.5h1M243 49.5h1M244 43.5h1M244 44.5h1M244 46.5h1M244 47.5h1M244 48.5h1M244 50.5h1M245 39.5h1M245 43.5h1M245 47.5h1M245 48.5h1M245 49.5h1M245 51.5h1M245 52.5h1M246 37.5h1M246 41.5h1M246 44.5h1M246 45.5h1M246 46.5h1M246 47.5h1M246 48.5h1M246 50.5h1M246 51.5h1M247 43.5h1M247 46.5h1M247 47.5h1M247 48.5h1M247 49.5h1M247 53.5h1M248 46.5h1M248 47.5h1M248 50.5h1M249 45.5h1M249 46.5h1M249 51.5h1M249 52.5h1M250 43.5h1M250 44.5h1M250 45.5h1M250 47.5h1M250 48.5h1M250 51.5h1M251 42.5h1M251 47.5h1M251 52.5h1M252 42.5h1M252 47.5h1M253 47.5h1M254 49.5h1M260 49.5h1M261 54.5h1M262 45.5h1" stroke="#000" stroke-width="1" stroke-opacity="0.46" fill="none"/>
<path d="M228 46.5h1M230 48.5h1M231 46.5h1M231 50.5h1M232 47.5h1M232 48.5h1M232 49.5h1M232 55.5h1M232 56.5h1M234 38.5h1M234 45.5h1M234 46.5h1M234 47.5h1M234 49.5h1M234 50.5h1M234 52.5h1M235 43.5h1M235 46.5h1M235 49.5h1M236 40.5h1M236 44.5h1M236 46.5h1M236 47.5h1M236 48.5h1M236 49.5h1M236 50.5h1M236 52.5h1M237 45.5h1M237 46.5h1M237 47.5h1M237 48.5h1M237 49.5h1M237 50.5h1M237 51.5h1M238 44.5h1M238 46.5h1M238 47.5h1M238 48.5h1M238 49.5h1M238 50.5h1M238 52.5h1M239 42.5h1M239 43.5h1M239 46.5h1M239 47.5h1M239 48.5h1M239 49.5h1M239 50.5h1M239 51.5h1M239 55.5h1M240 43.5h1M240 46.5h1M240 48.5h1M240 49.5h1M240 53.5h1M241 41.5h1M241 45.5h1M241 46.5h1M241 48.5h1M241 49.5h1M242 42.5h1M242 46.5h1M242 49.5h1M242 50.5h1M242 51.5h1M242 52.5h1M243 43.5h1M243 44.5h1M243 45.5h1M243 46.5h1M243 47.5h1M243 48.5h1M243 49.5h1M243 50.5h1M243 52.5h1M243 54.5h1M244 43.5h1M244 44.5h1M244 46.5h1M244 47.5h1M244 50.5h1M244 53.5h1M245 45.5h1M245 46.5h1M245 47.5h1M245 48.5h1M245 50.5h1M245 51.5h1M245 53.5h1M246 45.5h1M246 46.5h1M246 48.5h1M246 49.5h1M247 40.5h1M247 44.5h1M247 48.5h1M247 49.5h1M247 51.5h1M247 53.5h1M248 43.5h1M248 45.5h1M248 46.5h1M248 47.5h1M248 48.5h1M248 50.5h1M248 51.5h1M248 54.5h1M249 47.5h1M249 48.5h1M249 49.5h1M250 45.5h1M250 46.5h1M250 47.5h1M250 48.5h1M250 49.5h1M250 50.5h1M251 46.5h1M251 48.5h1M251 50.5h1M251 52.5h1M252 38.5h1M253 48.5h1M253 49.5h1M253 50.5h1M255 48.5h1M255 49.5h1M258 44.5h1M263 52.5h1" stroke="#000" stroke-width="1" stroke-opacity="0.46" fill="none"/>
<path d="M228 52.5h1M229 45.5h1M229 49.5h1M229 51.5h1M230 46.5h1M230 50.5h1M230 60.5h1M231 45.5h1M231 48.5h1M231 50.5h1M231 51.5h1M232 47.5h1M232 49.5h1M233 45.5h1M233 47.5h1M233 49.5h1M234 45.5h1M234 46.5h1M234 48.5h1M235 45.5h1M235 46.5h1M235 47.5h1M235 48.5h1M235 50.5h1M236 46.5h1M236 47.5h1M236 56.5h1M237 44.5h1M237 45.5h1M237 46.5h1M237 47.5h1M237 48.5h1M237 49.5h1M237 50.5h1M237 52.5h1M237 58.5h1M238 41.5h1M238 43.5h1M238 44.5h1M238 45.5h1M238 47.5h1M238 49.5h1M238 51.5h1M238 55.5h1M239 42.5h1M239 45.5h1M239 46.5h1M239 47.5h1M239 48.5h1M239 49.5h1M239 53.5h1M239 60.5h1M240 44.5h1M240 45.5h1M240 46.5h1M240 47.5h1M240 48.5h1M240 49.5h1M240 50.5h1M240 53.5h1M241 43.5h1M241 45.5h1M241 47.5h1M241 48.5h1M241 49.5h1M241 50.5h1M241 51.5h1M242 42.5h1M242 44.5h1M242 45.5h1M242 46.5h1M242 47.5h1M242 48.5h1M242 49.5h1M242 50.5h1M242 52.5h1M243 43.5h1M243 44.5h1M243 45.5h1M243 46.5h1M243 47.5h1M243 48.5h1M244 41.5h1M244 46.5h1M244 48.5h1M244 49.5h1M244 50.5h1M244 51.5h1M245 45.5h1M245 46.5h1M245 47.5h1M245 48.5h1M245 50.5h1M245 53.5h1M246 44.5h1M246 46.5h1M246 50.5h1M246 54.5h1M247 43.5h1M247 44.5h1M247 47.5h1M247 48.5h1M247 50.5h1M248 42.5h1M248 46.5h1M248 47.5h1M248 48.5h1M248 49.5h1M248 51.5h1M248 53.5h1M249 47.5h1M249 48.5h1M249 49.5h1M250 46.5h1M250 47.5h1M250 48.5h1M250 49.5h1M250 51.5h1M250 54.5h1M251 44.5h1M251 49.5h1M251 51.5h1M252 43.5h1M252 46.5h1M252 47.5h1M252 48.5h1M252 52.5h1M253 41.5h1M253 43.5h1M253 46.5h1M253 47.5h1M253 48.5h1M253 51.5h1M253 52.5h1M254 44.5h1M254 48.5h1M257 47.5h1M257 48.5h1M258 54.5h1" stroke="#000" stroke-width="1" stroke-opacity="0.46" fill="none"/>
<path d="M229 41.5h1M229 48.5h1M229 54.5h1M230 46.5h1M230 47.5h1M230 48.5h1M230 52.5h1M231 45.5h1M231 46.5h1M231 48.5h1M232 46.5h1M232 47.5h1M232 51.5h1M233 47.5h1M233 48.5h1M233 49.5h1M233 50.5h1M234 41.5h1M234 42.5h1M234 45.5h1M234 47.5h1M234 48.5h1M234 49.5h1M235 43.5h1M235 44.5h1M235 47.5h1M235 48.5h1M235 49.5h1M235 50.5h1M235 57.5h1M236 45.5h1M236 46.5h1M236 48.5h1M236 49.5h1M236 50.5h1M236 51.5h1M237 45.5h1M237 47.5h1M237 49.5h1M237 50.5h1M237 51.5h1M238 45.5h1M238 46.5h1M238 47.5h1M238 48.5h1M238 50.5h1M239 39.5h1M239 42.5h1M239 43.5h1M239 45.5h1M239 46.5h1M239 47.5h1M239 48.5h1M239 49.5h1M239 50.5h1M239 51.5h1M239 52.5h1M240 46.5h1M240 48.5h1M240 49.5h1M240 50.5h1M240 51.5h1M241 44.5h1M241 45.5h1M241 47.5h1M241 48.5h1M241 49.5h1M241 50.5h1M241 51.5h1M242 45.5h1M242 46.5h1M242 47.5h1M242 48.5h1M242 49.5h1M242 50.5h1M242 51.5h1M242 52.5h1M243 40.5h1M243 44.5h1M243 45.5h1M243 46.5h1M243 47.5h1M243 48.5h1M243 49.5h1M243 50.5h1M243 51.5h1M243 52.5h1M244 40.5h1M244 41.5h1M244 45.5h1M244 46.5h1M244 47.5h1M244 48.5h1M244 49.5h1M244 50.5h1M245 44.5h1M245 46.5h1M245 48.5h1M245 49.5h1M245 51.5h1M245 52.5h1M246 44.5h1M246 45.5h1M246 46.5h1M246 47.5h1M246 48.5h1M246 49.5h1M246 52.5h1M247 46.5h1M247 47.5h1M247 48.5h1M247 49.5h1M247 50.5h1M247 51.5h1M248 44.5h1M248 45.5h1M248 46.5h1M248 47.5h1M248 48.5h1M248 49.5h1M249 45.5h1M249 46.5h1M249 47.5h1M249 49.5h1M249 50.5h1M250 43.5h1M250 46.5h1M250 47.5h1M250 51.5h1M251 46.5h1M251 47.5h1M252 51.5h1M253 45.5h1M253 46.5h1M253 50.5h1M254 46.5h1M254 53.5h1M259 47.5h1" stroke="#000" stroke-width="1" stroke-opacity="0.46" fill="none"/>
<path d="M229 33.5h1M229 83.5h1M230 36.5h1M231 14.5h1M231 58.5h1M231 60.5h1M231 78.5h1M231 93.5h1M232 43.5h1M232 64.5h1M233 40.5h1M233 44.5h1M233 69.5h1M233 71.5h1M233 83.5h1M233 96.5h1M234 44.5h1M234 55.5h1M234 80.5h1M235 22.5h1M235 46.5h1M235 50.5h1M235 97.5h1M236 15.5h1M236 38.5h1M236 48.5h1M236 56.5h1M237 18.5h1M238 50.5h1M238 52.5h1M238 63.5h1M238 70.5h1M238 82.5h1M238 90.5h1M239 40.5h1M239 49.5h1M239 52.5h1M239 55.5h1M240 33.5h1M240 38.5h1M240 40.5h1M240 51.5h1M240 75.5h1M241 15.5h1M241 24.5h1M241 29.5h1M241 44.5h1M241 47.5h1M241 60.5h1M241 88.5h1M241 92.5h1M242 54.5h1M242 59.5h1M243 27.5h1M243 28.5h1M243 29.5h1M243 36.5h1M243 48.5h1M243 51.5h1M243 63.5h1M243 68.5h1M243 84.5h1M243 88.5h1M244 54.5h1M244 62.5h1M244 99.5h1M245 38.5h1M245 46.5h1M245 81.5h1M245 92.5h1M246 37.5h1M246 45.5h1M246 59.5h1M246 71.5h1M247 23.5h1M247 42.5h1M247 56.5h1M247 95.5h1M248 17.5h1M248 24.5h1M248 38.5h1M248 39.5h1M248 90.5h1M248 91.5h1M249 25.5h1M249 41.5h1M249 49.5h1M249 57.5h1M249 65.5h1M249 79.5h1M250 38.5h1M250 43.5h1M250 79.5h1M250 82.5h1M250 98.5h1M251 19.5h1M251 26.5h1M251 28.5h1M251 29.5h1M251 83.5h1M252 32.5h1M253 43.5h1M254 88.5h1M255 57.5h1M256 16.5h1M256 32.5h1M256 45.5h1M258 35.5h1M258 44.5h1M258 48.5h1M263 84.5h1M265 38.5h1" stroke="#000" stroke-width="1" stroke-opacity="0.26" fill="none"/>
<path d="M229 23.5h1M229 81.5h1M230 27.5h1M230 49.5h1M230 80.5h1M230 84.5h1M231 35.5h1M231 50.5h1M231 87.5h1M231 92.5h1M231 96.5h1M233 29.5h1M233 83.5h1M234 53.5h1M234 71.5h1M235 24.5h1M235 48.5h1M235 55.5h1M235 59.5h1M236 24.5h1M236 26.5h1M236 42.5h1M236 77.5h1M237 52.5h1M238 46.5h1M238 64.5h1M239 53.5h1M239 54.5h1M239 59.5h1M239 91.5h1M240 41.5h1M240 46.5h1M240 52.5h1M240 58.5h1M240 80.5h1M241 33.5h1M242 26.5h1M242 31.5h1M242 35.5h1M242 36.5h1M242 37.5h1M242 54.5h1M242 77.5h1M242 92.5h1M243 45.5h1M243 59.5h1M243 65.5h1M243 88.5h1M243 90.5h1M243 94.5h1M244 33.5h1M244 40.5h1M244 47.5h1M244 50.5h1M244 51.5h1M244 58.5h1M244 59.5h1M244 82.5h1M245 24.5h1M245 28.5h1M245 53.5h1M245 54.5h1M246 20.5h1M246 29.5h1M246 30.5h1M246 34.5h1M246 36.5h1M246 40.5h1M247 20.5h1M247 24.5h1M247 30.5h1M247 61.5h1M248 26.5h1M248 33.5h1M248 90.5h1M249 20.5h1M249 38.5h1M249 43.5h1M250 43.5h1M250 84.5h1M251 33.5h1M251 45.5h1M251 59.5h1M251 78.5h1M251 97.5h1M252 61.5h1M253 34.5h1M253 48.5h1M253 70.5h1M253 84.5h1M254 34.5h1M254 39.5h1M254 46.5h1M254 82.5h1M254 94.5h1M256 47.5h1M256 50.5h1M256 58.5h1M256 98.5h1M257 45.5h1M258 25.5h1M258 40.5h1M258 62.5h1M258 88.5h1M259 41.5h1M261 37.5h1M261 82.5h1M263 93.5h1M264 30.5h1" stroke="#000" stroke-width="1" stroke-opacity="0.26" fill="none"/>
<path d="M273 77.5h1M274 87.5h1M281 72.5h1M287 63.5h1M287 64.5h1M287 76.5h1M288 58.5h1M288 69.5h1M289 67.5h1M290 64.5h1M291 61.5h1M292 59.5h1M292 62.5h1M294 66.5h1M294 73.5h1M295 66.5h1M296 65.5h1M296 66.5h1M296 68.5h1M296 78.5h1M297 59.5h1M297 64.5h1M298 68.5h1M298 71.5h1M299 68.5h1M303 67.5h1M303 72.5h1M304 65.5h1M304 71.5h1M306 68.5h1M307 33.5h1M307 63.5h1M309 85.5h1M315 67.5h1M318 49.5h1M320 53.5h1M320 73.5h1M321 65.5h1M321 89.5h1M326 68.5h1" stroke="#000" stroke-width="1" stroke-opacity="0.2" fill="none"/>
<line x1="224.20" y1="4.80" x2="335.50" y2="4.80" stroke="#989898" stroke-width="1" />
<line x1="335.00" y1="4.80" x2="335.00" y2="103.30" stroke="#5c5c5c" stroke-width="1.2" />
<line x1="270.45" y1="4.80" x2="270.45" y2="103.30" stroke="#9a9a9a" stroke-width="1" />
<line x1="227.20" y1="73.10" x2="335.00" y2="73.10" stroke="#a0a0a0" stroke-width="1" />
<line x1="227.20" y1="103.30" x2="227.20" y2="106.10" stroke="#a8a8a8" stroke-width="0.9" />
<line x1="224.40" y1="103.30" x2="227.20" y2="103.30" stroke="#a8a8a8" stroke-width="0.9" />
<line x1="235.31" y1="103.30" x2="235.31" y2="105.10" stroke="#d4d4d4" stroke-width="0.7" />
<line x1="225.40" y1="95.89" x2="227.20" y2="95.89" stroke="#d4d4d4" stroke-width="0.7" />
<line x1="240.06" y1="103.30" x2="240.06" y2="105.10" stroke="#d4d4d4" stroke-width="0.7" />
<line x1="225.40" y1="91.55" x2="227.20" y2="91.55" stroke="#d4d4d4" stroke-width="0.7" />
<line x1="243.43" y1="103.30" x2="243.43" y2="105.10" stroke="#d4d4d4" stroke-width="0.7" />
<line x1="225.40" y1="88.47" x2="227.20" y2="88.47" stroke="#d4d4d4" stroke-width="0.7" />
<line x1="246.04" y1="103.30" x2="246.04" y2="105.10" stroke="#d4d4d4" stroke-width="0.7" />
<line x1="225.40" y1="86.09" x2="227.20" y2="86.09" stroke="#d4d4d4" stroke-width="0.7" />
<line x1="248.17" y1="103.30" x2="248.17" y2="105.10" stroke="#d4d4d4" stroke-width="0.7" />
<line x1="225.40" y1="84.14" x2="227.20" y2="84.14" stroke="#d4d4d4" stroke-width="0.7" />
<line x1="249.98" y1="103.30" x2="249.98" y2="105.10" stroke="#d4d4d4" stroke-width="0.7" />
<line x1="225.40" y1="82.49" x2="227.20" y2="82.49" stroke="#d4d4d4" stroke-width="0.7" />
<line x1="251.54" y1="103.30" x2="251.54" y2="105.10" stroke="#d4d4d4" stroke-width="0.7" />
<line x1="225.40" y1="81.06" x2="227.20" y2="81.06" stroke="#d4d4d4" stroke-width="0.7" />
<line x1="252.92" y1="103.30" x2="252.92" y2="105.10" stroke="#d4d4d4" stroke-width="0.7" />
<line x1="225.40" y1="79.80" x2="227.20" y2="79.80" stroke="#d4d4d4" stroke-width="0.7" />
<text transform="translate(227.50,118.90) scale(0.79,1)" font-size="8.6" text-anchor="end" font-weight="bold" stroke="#000" stroke-width="0.2">10</text>
<text transform="translate(227.85,115.20) scale(0.79,1)" font-size="6.54" text-anchor="start" font-weight="bold" stroke="#000" stroke-width="0.15">0</text>
<text transform="translate(219.30,109.60) scale(0.79,1)" font-size="8.6" text-anchor="end" font-weight="bold" stroke="#000" stroke-width="0.2">10</text>
<text transform="translate(219.65,105.90) scale(0.79,1)" font-size="6.54" text-anchor="start" font-weight="bold" stroke="#000" stroke-width="0.15">0</text>
<line x1="254.15" y1="103.30" x2="254.15" y2="106.10" stroke="#a8a8a8" stroke-width="0.9" />
<line x1="224.40" y1="78.67" x2="227.20" y2="78.67" stroke="#a8a8a8" stroke-width="0.9" />
<line x1="262.26" y1="103.30" x2="262.26" y2="105.10" stroke="#d4d4d4" stroke-width="0.7" />
<line x1="225.40" y1="71.26" x2="227.20" y2="71.26" stroke="#d4d4d4" stroke-width="0.7" />
<line x1="267.01" y1="103.30" x2="267.01" y2="105.10" stroke="#d4d4d4" stroke-width="0.7" />
<line x1="225.40" y1="66.93" x2="227.20" y2="66.93" stroke="#d4d4d4" stroke-width="0.7" />
<line x1="270.38" y1="103.30" x2="270.38" y2="105.10" stroke="#d4d4d4" stroke-width="0.7" />
<line x1="225.40" y1="63.85" x2="227.20" y2="63.85" stroke="#d4d4d4" stroke-width="0.7" />
<line x1="272.99" y1="103.30" x2="272.99" y2="105.10" stroke="#d4d4d4" stroke-width="0.7" />
<line x1="225.40" y1="61.46" x2="227.20" y2="61.46" stroke="#d4d4d4" stroke-width="0.7" />
<line x1="275.12" y1="103.30" x2="275.12" y2="105.10" stroke="#d4d4d4" stroke-width="0.7" />
<line x1="225.40" y1="59.51" x2="227.20" y2="59.51" stroke="#d4d4d4" stroke-width="0.7" />
<line x1="276.93" y1="103.30" x2="276.93" y2="105.10" stroke="#d4d4d4" stroke-width="0.7" />
<line x1="225.40" y1="57.86" x2="227.20" y2="57.86" stroke="#d4d4d4" stroke-width="0.7" />
<line x1="278.49" y1="103.30" x2="278.49" y2="105.10" stroke="#d4d4d4" stroke-width="0.7" />
<line x1="225.40" y1="56.44" x2="227.20" y2="56.44" stroke="#d4d4d4" stroke-width="0.7" />
<line x1="279.87" y1="103.30" x2="279.87" y2="105.10" stroke="#d4d4d4" stroke-width="0.7" />
<line x1="225.40" y1="55.18" x2="227.20" y2="55.18" stroke="#d4d4d4" stroke-width="0.7" />
<text transform="translate(254.45,118.90) scale(0.79,1)" font-size="8.6" text-anchor="end" font-weight="bold" stroke="#000" stroke-width="0.2">10</text>
<text transform="translate(254.80,115.20) scale(0.79,1)" font-size="6.54" text-anchor="start" font-weight="bold" stroke="#000" stroke-width="0.15">1</text>
<text transform="translate(219.30,84.97) scale(0.79,1)" font-size="8.6" text-anchor="end" font-weight="bold" stroke="#000" stroke-width="0.2">10</text>
<text transform="translate(219.65,81.27) scale(0.79,1)" font-size="6.54" text-anchor="start" font-weight="bold" stroke="#000" stroke-width="0.15">1</text>
<line x1="281.10" y1="103.30" x2="281.10" y2="106.10" stroke="#a8a8a8" stroke-width="0.9" />
<line x1="224.40" y1="54.05" x2="227.20" y2="54.05" stroke="#a8a8a8" stroke-width="0.9" />
<line x1="289.21" y1="103.30" x2="289.21" y2="105.10" stroke="#d4d4d4" stroke-width="0.7" />
<line x1="225.40" y1="46.64" x2="227.20" y2="46.64" stroke="#d4d4d4" stroke-width="0.7" />
<line x1="293.96" y1="103.30" x2="293.96" y2="105.10" stroke="#d4d4d4" stroke-width="0.7" />
<line x1="225.40" y1="42.30" x2="227.20" y2="42.30" stroke="#d4d4d4" stroke-width="0.7" />
<line x1="297.33" y1="103.30" x2="297.33" y2="105.10" stroke="#d4d4d4" stroke-width="0.7" />
<line x1="225.40" y1="39.22" x2="227.20" y2="39.22" stroke="#d4d4d4" stroke-width="0.7" />
<line x1="299.94" y1="103.30" x2="299.94" y2="105.10" stroke="#d4d4d4" stroke-width="0.7" />
<line x1="225.40" y1="36.84" x2="227.20" y2="36.84" stroke="#d4d4d4" stroke-width="0.7" />
<line x1="302.07" y1="103.30" x2="302.07" y2="105.10" stroke="#d4d4d4" stroke-width="0.7" />
<line x1="225.40" y1="34.89" x2="227.20" y2="34.89" stroke="#d4d4d4" stroke-width="0.7" />
<line x1="303.88" y1="103.30" x2="303.88" y2="105.10" stroke="#d4d4d4" stroke-width="0.7" />
<line x1="225.40" y1="33.24" x2="227.20" y2="33.24" stroke="#d4d4d4" stroke-width="0.7" />
<line x1="305.44" y1="103.30" x2="305.44" y2="105.10" stroke="#d4d4d4" stroke-width="0.7" />
<line x1="225.40" y1="31.81" x2="227.20" y2="31.81" stroke="#d4d4d4" stroke-width="0.7" />
<line x1="306.82" y1="103.30" x2="306.82" y2="105.10" stroke="#d4d4d4" stroke-width="0.7" />
<line x1="225.40" y1="30.55" x2="227.20" y2="30.55" stroke="#d4d4d4" stroke-width="0.7" />
<text transform="translate(281.40,118.90) scale(0.79,1)" font-size="8.6" text-anchor="end" font-weight="bold" stroke="#000" stroke-width="0.2">10</text>
<text transform="translate(281.75,115.20) scale(0.79,1)" font-size="6.54" text-anchor="start" font-weight="bold" stroke="#000" stroke-width="0.15">2</text>
<text transform="translate(219.30,60.35) scale(0.79,1)" font-size="8.6" text-anchor="end" font-weight="bold" stroke="#000" stroke-width="0.2">10</text>
<text transform="translate(219.65,56.65) scale(0.79,1)" font-size="6.54" text-anchor="start" font-weight="bold" stroke="#000" stroke-width="0.15">2</text>
<line x1="308.05" y1="103.30" x2="308.05" y2="106.10" stroke="#a8a8a8" stroke-width="0.9" />
<line x1="224.40" y1="29.42" x2="227.20" y2="29.42" stroke="#a8a8a8" stroke-width="0.9" />
<line x1="316.16" y1="103.30" x2="316.16" y2="105.10" stroke="#d4d4d4" stroke-width="0.7" />
<line x1="225.40" y1="22.01" x2="227.20" y2="22.01" stroke="#d4d4d4" stroke-width="0.7" />
<line x1="320.91" y1="103.30" x2="320.91" y2="105.10" stroke="#d4d4d4" stroke-width="0.7" />
<line x1="225.40" y1="17.68" x2="227.20" y2="17.68" stroke="#d4d4d4" stroke-width="0.7" />
<line x1="324.28" y1="103.30" x2="324.28" y2="105.10" stroke="#d4d4d4" stroke-width="0.7" />
<line x1="225.40" y1="14.60" x2="227.20" y2="14.60" stroke="#d4d4d4" stroke-width="0.7" />
<line x1="326.89" y1="103.30" x2="326.89" y2="105.10" stroke="#d4d4d4" stroke-width="0.7" />
<line x1="225.40" y1="12.21" x2="227.20" y2="12.21" stroke="#d4d4d4" stroke-width="0.7" />
<line x1="329.02" y1="103.30" x2="329.02" y2="105.10" stroke="#d4d4d4" stroke-width="0.7" />
<line x1="225.40" y1="10.26" x2="227.20" y2="10.26" stroke="#d4d4d4" stroke-width="0.7" />
<line x1="330.83" y1="103.30" x2="330.83" y2="105.10" stroke="#d4d4d4" stroke-width="0.7" />
<line x1="225.40" y1="8.61" x2="227.20" y2="8.61" stroke="#d4d4d4" stroke-width="0.7" />
<line x1="332.39" y1="103.30" x2="332.39" y2="105.10" stroke="#d4d4d4" stroke-width="0.7" />
<line x1="225.40" y1="7.19" x2="227.20" y2="7.19" stroke="#d4d4d4" stroke-width="0.7" />
<line x1="333.77" y1="103.30" x2="333.77" y2="105.10" stroke="#d4d4d4" stroke-width="0.7" />
<line x1="225.40" y1="5.93" x2="227.20" y2="5.93" stroke="#d4d4d4" stroke-width="0.7" />
<text transform="translate(308.35,118.90) scale(0.79,1)" font-size="8.6" text-anchor="end" font-weight="bold" stroke="#000" stroke-width="0.2">10</text>
<text transform="translate(308.70,115.20) scale(0.79,1)" font-size="6.54" text-anchor="start" font-weight="bold" stroke="#000" stroke-width="0.15">3</text>
<text transform="translate(219.30,35.72) scale(0.79,1)" font-size="8.6" text-anchor="end" font-weight="bold" stroke="#000" stroke-width="0.2">10</text>
<text transform="translate(219.65,32.02) scale(0.79,1)" font-size="6.54" text-anchor="start" font-weight="bold" stroke="#000" stroke-width="0.15">3</text>
<line x1="335.00" y1="103.30" x2="335.00" y2="106.10" stroke="#a8a8a8" stroke-width="0.9" />
<line x1="224.40" y1="4.80" x2="227.20" y2="4.80" stroke="#a8a8a8" stroke-width="0.9" />
<text transform="translate(335.30,118.90) scale(0.79,1)" font-size="8.6" text-anchor="end" font-weight="bold" stroke="#000" stroke-width="0.2">10</text>
<text transform="translate(335.65,115.20) scale(0.79,1)" font-size="6.54" text-anchor="start" font-weight="bold" stroke="#000" stroke-width="0.15">4</text>
<text transform="translate(219.30,11.10) scale(0.79,1)" font-size="8.6" text-anchor="end" font-weight="bold" stroke="#000" stroke-width="0.2">10</text>
<text transform="translate(219.65,7.40) scale(0.79,1)" font-size="6.54" text-anchor="start" font-weight="bold" stroke="#000" stroke-width="0.15">4</text>
<line x1="227.20" y1="4.40" x2="227.20" y2="104.30" stroke="#000" stroke-width="1.4" />
<line x1="226.50" y1="103.45" x2="335.50" y2="103.45" stroke="#000" stroke-width="1.7" />
<text x="233.00" y="13.60" font-size="7.3" text-anchor="start" font-weight="bold" fill="#000"  stroke="#000" stroke-width="0.35">93.05%</text>
<text x="302.50" y="13.40" font-size="7.3" text-anchor="start" font-weight="bold" fill="#000"  stroke="#000" stroke-width="0.35">2.04%</text>
<text x="235.00" y="91.30" font-size="7.3" text-anchor="start" font-weight="bold" fill="#000"  stroke="#000" stroke-width="0.35">4.12%</text>
<text x="304.60" y="91.10" font-size="7.3" text-anchor="start" font-weight="bold" fill="#000"  stroke="#000" stroke-width="0.35">0.79%</text>
<text transform="translate(201.00,63.00) rotate(-90)" font-size="10.8" text-anchor="middle" font-weight="bold">BDCA-2</text>
<text x="265.20" y="142.10" font-size="11" text-anchor="middle" font-weight="bold" fill="#000" >CD3</text>
<path d="M405.3 96.5L405.3 94.6L405.9 94.9L406.5 94.8L407.1 94.8L407.7 95.3L408.3 95.9L408.9 95.6L409.5 95.6L410.1 95.3L410.7 95.5L411.3 95.4L411.9 95.1L412.5 95.5L413.1 96.2L413.7 96.3L414.3 96.0L414.9 94.1L415.5 94.4L416.1 96.5L416.7 95.5L417.3 94.9L417.9 93.8L418.5 95.8L419.1 95.1L419.7 94.2L420.3 96.1L420.9 96.0L421.5 95.3L422.1 95.9L422.7 93.3L423.3 94.5L423.9 95.1L424.5 96.2L425.1 94.5L425.7 94.7L426.3 95.8L426.9 95.7L427.5 96.4L428.1 95.3L428.7 94.5L429.3 94.3L429.9 94.7L430.5 93.9L431.1 95.8L431.7 94.8L432.3 92.8L432.9 91.7L433.5 95.9L434.1 92.8L434.7 94.0L435.3 94.6L435.9 95.2L436.5 95.8L437.1 94.9L437.7 93.7L438.3 95.1L438.9 95.9L439.5 95.0L440.1 96.4L440.7 95.1L441.3 95.6L441.9 94.4L442.5 95.2L443.1 94.3L443.7 93.1L444.3 95.5L444.9 96.1L445.5 94.8L446.1 95.4L446.7 95.1L447.3 95.8L447.9 94.8L448.5 95.2L449.1 95.7L449.7 95.5L450.3 95.0L450.9 94.2L451.5 95.8L452.1 96.0L452.7 94.2L453.3 95.9L453.9 95.2L454.5 93.9L455.1 93.8L455.7 94.0L456.3 96.0L456.9 92.3L457.5 95.6L458.1 94.2L458.7 93.3L459.3 92.0L459.9 94.4L460.5 95.2L461.1 95.5L461.7 96.0L462.3 95.9L462.9 94.5L463.5 94.6L464.1 95.1L464.7 95.7L465.3 95.1L465.9 94.7L466.5 96.3L467.1 95.6L467.7 95.8L468.3 94.6L468.9 95.0L469.5 96.5L470.1 95.9L470.7 93.6L471.3 96.2L471.9 95.1L472.5 95.9L473.1 94.1L473.7 95.3L474.3 95.7L474.9 96.4L475.5 95.5L476.1 94.5L476.7 94.7L477.3 96.5L477.9 93.8L478.5 95.5L479.1 96.3L479.7 95.2L480.3 95.9L480.9 95.8L481.5 95.9L482.1 95.4L482.7 95.8L483.3 96.1L483.9 94.8L484.5 95.8L485.1 94.2L485.7 94.8L486.3 94.7L486.9 95.1L487.5 94.1L488.1 95.6L488.7 96.2L489.3 95.0L489.9 95.2L490.5 95.6L491.1 95.1L491.7 95.7L492.3 94.1L492.9 94.6L493.5 95.2L494.1 95.7L494.7 94.3L495.3 95.9L495.9 95.7L496.5 94.6L497.1 94.7L497.7 93.4L498.3 95.5L498.9 96.0L499.5 94.5L500.1 93.7L500.7 95.4L501.3 93.5L501.9 92.3L502.5 93.8L503.1 93.4L503.7 94.9L504.3 94.0L504.9 93.0L505.5 92.4L506.1 95.2L506.7 94.3L506.7 96.5Z" fill="#000" stroke="#000" stroke-width="0.4"/>
<path d="M434.1 96.0L434.7 94.5L435.0 93.0L435.4 91.6L435.6 90.2L436.1 88.8L436.5 87.4L437.3 86.0L436.7 84.6L437.3 83.2L437.4 81.8L437.7 80.4L438.1 79.0L438.9 77.6L439.4 76.2L439.4 74.8L438.9 73.4L439.5 72.0L439.2 70.8L439.8 69.6L440.2 68.3L440.0 67.1L440.2 65.9L440.0 64.7L439.5 63.4L439.6 62.2L440.3 61.0L440.6 59.8L440.8 58.6L440.4 57.3L440.6 56.1L440.8 54.9L441.1 53.7L440.8 52.4L440.6 51.2L441.3 50.0L441.4 48.8L441.6 47.6L441.3 46.4L442.0 45.2L441.7 44.0L442.1 42.5L443.2 41.0L443.8 40.2L444.7 41.5L445.6 42.8L446.4 44.0L446.3 45.3L447.2 46.6L446.8 47.9L447.5 49.2L447.2 50.5L447.8 51.8L447.8 53.1L448.0 54.4L448.4 55.8L447.8 57.1L448.6 58.4L448.5 59.7L448.9 61.0L449.2 62.2L449.1 63.4L449.3 64.7L449.2 65.9L449.8 67.1L449.6 68.3L450.1 69.6L449.7 70.8L450.7 72.0L450.2 73.4L451.2 74.8L450.9 76.2L451.5 77.6L451.6 79.0L452.1 80.4L452.1 81.8L452.8 83.2L452.8 84.6L453.1 86.0L453.7 87.2L453.2 88.4L454.1 89.6L454.0 90.8L453.8 92.0L454.9 93.3L455.1 94.7L455.6 96.0Z" fill="#000" stroke="#000" stroke-width="0.5"/>
<path d="M414.3 95.4L415.0 95.0L416.5 94.0L417.2 92.5L416.7 91.0L418.8 89.5L418.7 87.8L420.4 86.0L420.8 84.2L420.3 82.5L419.8 80.8L420.9 79.0L421.1 77.2L421.6 75.5L421.4 73.8L421.3 72.0L421.9 70.2L421.8 68.5L423.2 66.8L422.3 65.0L422.5 63.2L422.9 61.5L422.6 59.8L423.1 58.0L423.4 56.5L423.4 55.0L423.7 53.5L424.6 52.0L424.3 50.2L423.6 48.4L424.2 46.6L424.7 44.9L424.1 43.3L424.4 41.6L424.4 40.0L424.6 38.3L424.3 36.7L424.3 35.0L424.1 33.4L424.7 31.7L424.2 30.1L425.5 28.4L424.7 26.8L424.7 25.1L425.3 23.5L425.4 21.9L425.9 20.2L427.0 20.8L427.8 23.5L427.5 25.1L427.5 26.8L427.6 28.4L428.5 30.1L427.7 31.7L427.9 33.4L427.9 35.0L428.5 36.7L429.2 38.3L427.9 40.0L428.6 41.6L428.5 43.3L428.4 44.9L428.8 46.6L428.1 48.2L429.2 49.9L429.0 51.5L428.6 53.1L429.9 54.7L429.7 56.4L429.9 58.0L428.8 59.6L429.5 61.1L429.4 62.7L430.0 64.2L430.5 65.8L429.1 67.3L430.0 68.9L430.1 70.4L430.7 72.0L430.3 73.8L429.8 75.5L430.4 77.2L430.1 79.0L430.3 80.8L430.8 82.5L430.7 84.2L431.1 86.0L430.5 87.6L432.4 89.2L432.1 90.8L432.1 92.4L431.3 94.0L433.4 95.6" fill="none" stroke="#000" stroke-width="1.75" stroke-linejoin="miter"/>
<path d="M424.4 41.6L424.4 40.0L424.6 38.3L424.3 36.7L424.3 35.0L424.1 33.4L424.7 31.7L424.2 30.1L425.5 28.4L424.7 26.8L424.7 25.1L425.3 23.5L425.4 21.9L425.9 20.2L427.0 20.8L427.8 23.5L427.5 25.1L427.5 26.8L427.6 28.4L428.5 30.1L427.7 31.7L427.9 33.4L427.9 35.0L428.5 36.7L429.2 38.3L427.9 40.0L428.6 41.6Z" fill="#000" fill-opacity="0.92"/>
<line x1="404.50" y1="18.00" x2="507.70" y2="18.00" stroke="#333" stroke-width="1" />
<line x1="507.20" y1="18.00" x2="507.20" y2="96.50" stroke="#333" stroke-width="1" />
<line x1="404.50" y1="96.50" x2="404.50" y2="99.90" stroke="#808080" stroke-width="0.9" />
<line x1="412.23" y1="96.50" x2="412.23" y2="98.70" stroke="#b0b0b0" stroke-width="0.7" />
<line x1="416.75" y1="96.50" x2="416.75" y2="98.70" stroke="#b0b0b0" stroke-width="0.7" />
<line x1="419.96" y1="96.50" x2="419.96" y2="98.70" stroke="#b0b0b0" stroke-width="0.7" />
<line x1="422.45" y1="96.50" x2="422.45" y2="98.70" stroke="#b0b0b0" stroke-width="0.7" />
<line x1="424.48" y1="96.50" x2="424.48" y2="98.70" stroke="#b0b0b0" stroke-width="0.7" />
<line x1="426.20" y1="96.50" x2="426.20" y2="98.70" stroke="#b0b0b0" stroke-width="0.7" />
<line x1="427.69" y1="96.50" x2="427.69" y2="98.70" stroke="#b0b0b0" stroke-width="0.7" />
<line x1="429.00" y1="96.50" x2="429.00" y2="98.70" stroke="#b0b0b0" stroke-width="0.7" />
<text transform="translate(403.20,113.50) scale(0.9,1)" font-size="8.6" text-anchor="end" font-weight="bold" stroke="#000" stroke-width="0.2">10</text>
<text transform="translate(403.55,109.80) scale(0.9,1)" font-size="6.54" text-anchor="start" font-weight="bold" stroke="#000" stroke-width="0.15">0</text>
<line x1="430.18" y1="96.50" x2="430.18" y2="99.90" stroke="#808080" stroke-width="0.9" />
<line x1="437.90" y1="96.50" x2="437.90" y2="98.70" stroke="#b0b0b0" stroke-width="0.7" />
<line x1="442.43" y1="96.50" x2="442.43" y2="98.70" stroke="#b0b0b0" stroke-width="0.7" />
<line x1="445.63" y1="96.50" x2="445.63" y2="98.70" stroke="#b0b0b0" stroke-width="0.7" />
<line x1="448.12" y1="96.50" x2="448.12" y2="98.70" stroke="#b0b0b0" stroke-width="0.7" />
<line x1="450.15" y1="96.50" x2="450.15" y2="98.70" stroke="#b0b0b0" stroke-width="0.7" />
<line x1="451.87" y1="96.50" x2="451.87" y2="98.70" stroke="#b0b0b0" stroke-width="0.7" />
<line x1="453.36" y1="96.50" x2="453.36" y2="98.70" stroke="#b0b0b0" stroke-width="0.7" />
<line x1="454.68" y1="96.50" x2="454.68" y2="98.70" stroke="#b0b0b0" stroke-width="0.7" />
<text transform="translate(428.88,113.50) scale(0.9,1)" font-size="8.6" text-anchor="end" font-weight="bold" stroke="#000" stroke-width="0.2">10</text>
<text transform="translate(429.23,109.80) scale(0.9,1)" font-size="6.54" text-anchor="start" font-weight="bold" stroke="#000" stroke-width="0.15">1</text>
<line x1="455.85" y1="96.50" x2="455.85" y2="99.90" stroke="#808080" stroke-width="0.9" />
<line x1="463.58" y1="96.50" x2="463.58" y2="98.70" stroke="#b0b0b0" stroke-width="0.7" />
<line x1="468.10" y1="96.50" x2="468.10" y2="98.70" stroke="#b0b0b0" stroke-width="0.7" />
<line x1="471.31" y1="96.50" x2="471.31" y2="98.70" stroke="#b0b0b0" stroke-width="0.7" />
<line x1="473.80" y1="96.50" x2="473.80" y2="98.70" stroke="#b0b0b0" stroke-width="0.7" />
<line x1="475.83" y1="96.50" x2="475.83" y2="98.70" stroke="#b0b0b0" stroke-width="0.7" />
<line x1="477.55" y1="96.50" x2="477.55" y2="98.70" stroke="#b0b0b0" stroke-width="0.7" />
<line x1="479.04" y1="96.50" x2="479.04" y2="98.70" stroke="#b0b0b0" stroke-width="0.7" />
<line x1="480.35" y1="96.50" x2="480.35" y2="98.70" stroke="#b0b0b0" stroke-width="0.7" />
<text transform="translate(454.55,113.50) scale(0.9,1)" font-size="8.6" text-anchor="end" font-weight="bold" stroke="#000" stroke-width="0.2">10</text>
<text transform="translate(454.90,109.80) scale(0.9,1)" font-size="6.54" text-anchor="start" font-weight="bold" stroke="#000" stroke-width="0.15">2</text>
<line x1="481.52" y1="96.50" x2="481.52" y2="99.90" stroke="#808080" stroke-width="0.9" />
<line x1="489.25" y1="96.50" x2="489.25" y2="98.70" stroke="#b0b0b0" stroke-width="0.7" />
<line x1="493.78" y1="96.50" x2="493.78" y2="98.70" stroke="#b0b0b0" stroke-width="0.7" />
<line x1="496.98" y1="96.50" x2="496.98" y2="98.70" stroke="#b0b0b0" stroke-width="0.7" />
<line x1="499.47" y1="96.50" x2="499.47" y2="98.70" stroke="#b0b0b0" stroke-width="0.7" />
<line x1="501.50" y1="96.50" x2="501.50" y2="98.70" stroke="#b0b0b0" stroke-width="0.7" />
<line x1="503.22" y1="96.50" x2="503.22" y2="98.70" stroke="#b0b0b0" stroke-width="0.7" />
<line x1="504.71" y1="96.50" x2="504.71" y2="98.70" stroke="#b0b0b0" stroke-width="0.7" />
<line x1="506.03" y1="96.50" x2="506.03" y2="98.70" stroke="#b0b0b0" stroke-width="0.7" />
<text transform="translate(480.22,113.50) scale(0.9,1)" font-size="8.6" text-anchor="end" font-weight="bold" stroke="#000" stroke-width="0.2">10</text>
<text transform="translate(480.57,109.80) scale(0.9,1)" font-size="6.54" text-anchor="start" font-weight="bold" stroke="#000" stroke-width="0.15">3</text>
<line x1="507.20" y1="96.50" x2="507.20" y2="99.90" stroke="#808080" stroke-width="0.9" />
<text transform="translate(505.90,113.50) scale(0.9,1)" font-size="8.6" text-anchor="end" font-weight="bold" stroke="#000" stroke-width="0.2">10</text>
<text transform="translate(506.25,109.80) scale(0.9,1)" font-size="6.54" text-anchor="start" font-weight="bold" stroke="#000" stroke-width="0.15">4</text>
<line x1="404.50" y1="17.50" x2="404.50" y2="97.20" stroke="#000" stroke-width="1.4" />
<line x1="403.80" y1="96.50" x2="507.70" y2="96.50" stroke="#000" stroke-width="1.6" />
<text transform="translate(389.00,60.50) rotate(-90)" font-size="10.8" text-anchor="middle" font-weight="bold">Cell numbers</text>
<text x="461.40" y="140.70" font-size="11" text-anchor="middle" font-weight="bold" fill="#000" >TLR9</text>
<rect x="94.50" y="229.00" width="33.10" height="69.60" fill="#fff" stroke="#000" stroke-width="2.0"/>
<rect x="143.10" y="262.00" width="35.30" height="36.60" fill="#000"/>
<rect x="193.60" y="192.10" width="33.60" height="106.50" fill="#fff" stroke="#000" stroke-width="2.0"/>
<rect x="242.50" y="277.00" width="35.10" height="21.60" fill="#000"/>
<line x1="86.50" y1="165.00" x2="86.50" y2="299.65" stroke="#000" stroke-width="2.1" />
<line x1="81.20" y1="298.60" x2="286.00" y2="298.60" stroke="#000" stroke-width="2.4" />
<text transform="translate(81.60,302.15) scale(0.955,1)" font-size="10.136499999999998" text-anchor="end" font-weight="bold" fill="#000" >0</text>
<line x1="81.20" y1="265.43" x2="86.50" y2="265.43" stroke="#000" stroke-width="1.8" />
<text transform="translate(81.60,268.98) scale(0.955,1)" font-size="10.136499999999998" text-anchor="end" font-weight="bold" fill="#000" >500</text>
<line x1="81.20" y1="232.25" x2="86.50" y2="232.25" stroke="#000" stroke-width="1.8" />
<text transform="translate(81.60,235.80) scale(0.955,1)" font-size="10.136499999999998" text-anchor="end" font-weight="bold" fill="#000" >1000</text>
<line x1="81.20" y1="199.08" x2="86.50" y2="199.08" stroke="#000" stroke-width="1.8" />
<text transform="translate(81.60,202.63) scale(0.955,1)" font-size="10.136499999999998" text-anchor="end" font-weight="bold" fill="#000" >1500</text>
<line x1="81.20" y1="165.90" x2="86.50" y2="165.90" stroke="#000" stroke-width="1.8" />
<text transform="translate(81.60,169.45) scale(0.955,1)" font-size="10.136499999999998" text-anchor="end" font-weight="bold" fill="#000" >2000</text>
<text x="143.00" y="177.20" font-size="10.9" text-anchor="start" font-weight="bold" fill="#000" >CD300a</text>
<text x="108.70" y="315.86" font-size="13.3" text-anchor="middle" font-weight="bold" fill="#000" >−</text>
<text x="157.00" y="315.96" font-size="13.3" text-anchor="middle" font-weight="bold" fill="#000" >+</text>
<text x="209.10" y="315.86" font-size="13.3" text-anchor="middle" font-weight="bold" fill="#000" >−</text>
<text x="257.30" y="315.96" font-size="13.3" text-anchor="middle" font-weight="bold" fill="#000" >+</text>
<line x1="97.00" y1="316.70" x2="178.70" y2="316.70" stroke="#000" stroke-width="1.25" />
<line x1="197.00" y1="316.70" x2="279.30" y2="316.70" stroke="#000" stroke-width="1.25" />
<text x="124.50" y="335.60" font-size="11" text-anchor="middle" font-weight="bold" fill="#000" >2h</text>
<text x="233.00" y="335.60" font-size="11" text-anchor="middle" font-weight="bold" fill="#000" >24h</text>
<text x="53.60" y="312.50" font-size="11" text-anchor="start" font-weight="bold" fill="#000" >CpG</text>
<text transform="translate(44.80,239.70) rotate(-90)" font-size="10.8" text-anchor="middle" font-weight="bold">Expression value</text>
<rect x="328.00" y="220.80" width="33.60" height="77.80" fill="#fff" stroke="#000" stroke-width="2.0"/>
<rect x="377.00" y="240.70" width="35.00" height="57.90" fill="#000"/>
<rect x="427.80" y="249.20" width="33.40" height="49.40" fill="#fff" stroke="#000" stroke-width="2.0"/>
<rect x="476.30" y="290.00" width="35.00" height="8.60" fill="#000"/>
<line x1="320.20" y1="165.00" x2="320.20" y2="299.65" stroke="#000" stroke-width="2.1" />
<line x1="314.90" y1="298.60" x2="518.50" y2="298.60" stroke="#000" stroke-width="2.4" />
<text transform="translate(315.30,302.15) scale(0.955,1)" font-size="10.136499999999998" text-anchor="end" font-weight="bold" fill="#000" >0</text>
<line x1="314.90" y1="265.43" x2="320.20" y2="265.43" stroke="#000" stroke-width="1.8" />
<text transform="translate(315.30,268.98) scale(0.955,1)" font-size="10.136499999999998" text-anchor="end" font-weight="bold" fill="#000" >500</text>
<line x1="314.90" y1="232.25" x2="320.20" y2="232.25" stroke="#000" stroke-width="1.8" />
<text transform="translate(315.30,235.80) scale(0.955,1)" font-size="10.136499999999998" text-anchor="end" font-weight="bold" fill="#000" >1000</text>
<line x1="314.90" y1="199.08" x2="320.20" y2="199.08" stroke="#000" stroke-width="1.8" />
<text transform="translate(315.30,202.63) scale(0.955,1)" font-size="10.136499999999998" text-anchor="end" font-weight="bold" fill="#000" >1500</text>
<line x1="314.90" y1="165.90" x2="320.20" y2="165.90" stroke="#000" stroke-width="1.8" />
<text transform="translate(315.30,169.45) scale(0.955,1)" font-size="10.136499999999998" text-anchor="end" font-weight="bold" fill="#000" >2000</text>
<text x="406.00" y="183.20" font-size="10.9" text-anchor="start" font-weight="bold" fill="#000" >CD300c</text>
<text x="341.00" y="315.86" font-size="13.3" text-anchor="middle" font-weight="bold" fill="#000" >−</text>
<text x="388.40" y="315.96" font-size="13.3" text-anchor="middle" font-weight="bold" fill="#000" >+</text>
<text x="441.20" y="315.86" font-size="13.3" text-anchor="middle" font-weight="bold" fill="#000" >−</text>
<text x="489.20" y="315.96" font-size="13.3" text-anchor="middle" font-weight="bold" fill="#000" >+</text>
<line x1="328.00" y1="316.70" x2="410.30" y2="316.70" stroke="#000" stroke-width="1.25" />
<line x1="428.20" y1="316.70" x2="510.40" y2="316.70" stroke="#000" stroke-width="1.25" />
<text x="368.00" y="337.90" font-size="11" text-anchor="middle" font-weight="bold" fill="#000" >2h</text>
<text x="471.20" y="337.70" font-size="11" text-anchor="middle" font-weight="bold" fill="#000" >24h</text>
<line x1="109.00" y1="380.10" x2="109.00" y2="385.40" stroke="#000" stroke-width="1.5" />
<line x1="100.00" y1="380.10" x2="118.00" y2="380.10" stroke="#000" stroke-width="1.5" />
<rect x="91.90" y="385.40" width="34.40" height="108.95" fill="#fff" stroke="#000" stroke-width="2.0"/>
<line x1="159.25" y1="390.70" x2="159.25" y2="406.30" stroke="#000" stroke-width="1.5" />
<line x1="150.50" y1="390.70" x2="168.00" y2="390.70" stroke="#000" stroke-width="1.5" />
<rect x="141.30" y="405.30" width="35.70" height="89.05" fill="#000"/>
<line x1="209.25" y1="396.70" x2="209.25" y2="410.40" stroke="#000" stroke-width="1.5" />
<line x1="200.30" y1="396.70" x2="218.20" y2="396.70" stroke="#000" stroke-width="1.5" />
<rect x="192.60" y="410.40" width="33.70" height="83.95" fill="#fff" stroke="#000" stroke-width="2.0"/>
<line x1="260.00" y1="457.70" x2="260.00" y2="460.50" stroke="#000" stroke-width="1.5" />
<line x1="251.00" y1="457.70" x2="269.00" y2="457.70" stroke="#000" stroke-width="1.5" />
<rect x="242.00" y="459.50" width="35.60" height="34.85" fill="#000"/>
<line x1="83.80" y1="361.60" x2="83.80" y2="495.40" stroke="#000" stroke-width="2.1" />
<line x1="78.50" y1="494.35" x2="286.00" y2="494.35" stroke="#000" stroke-width="2.4" />
<text transform="translate(78.90,497.90) scale(0.955,1)" font-size="10.136499999999998" text-anchor="end" font-weight="bold" fill="#000" >0.00</text>
<line x1="78.50" y1="461.39" x2="83.80" y2="461.39" stroke="#000" stroke-width="1.8" />
<text transform="translate(78.90,464.94) scale(0.955,1)" font-size="10.136499999999998" text-anchor="end" font-weight="bold" fill="#000" >0.03</text>
<line x1="78.50" y1="428.43" x2="83.80" y2="428.43" stroke="#000" stroke-width="1.8" />
<text transform="translate(78.90,431.98) scale(0.955,1)" font-size="10.136499999999998" text-anchor="end" font-weight="bold" fill="#000" >0.06</text>
<line x1="78.50" y1="395.46" x2="83.80" y2="395.46" stroke="#000" stroke-width="1.8" />
<text transform="translate(78.90,399.01) scale(0.955,1)" font-size="10.136499999999998" text-anchor="end" font-weight="bold" fill="#000" >0.09</text>
<line x1="78.50" y1="362.50" x2="83.80" y2="362.50" stroke="#000" stroke-width="1.8" />
<text transform="translate(78.90,366.05) scale(0.955,1)" font-size="10.136499999999998" text-anchor="end" font-weight="bold" fill="#000" >0.12</text>
<text x="165.70" y="371.90" font-size="10.9" text-anchor="start" font-weight="bold" fill="#000" >CD300a</text>
<text x="108.80" y="512.36" font-size="13.3" text-anchor="middle" font-weight="bold" fill="#000" >−</text>
<text x="156.50" y="512.56" font-size="13.3" text-anchor="middle" font-weight="bold" fill="#000" >+</text>
<text x="212.20" y="512.16" font-size="13.3" text-anchor="middle" font-weight="bold" fill="#000" >−</text>
<text x="260.00" y="512.56" font-size="13.3" text-anchor="middle" font-weight="bold" fill="#000" >+</text>
<line x1="96.50" y1="515.00" x2="178.70" y2="515.00" stroke="#000" stroke-width="1.25" />
<line x1="197.50" y1="513.80" x2="279.30" y2="513.80" stroke="#000" stroke-width="1.25" />
<text x="136.20" y="528.80" font-size="11" text-anchor="middle" font-weight="bold" fill="#000" >2h</text>
<text x="233.00" y="529.10" font-size="11" text-anchor="middle" font-weight="bold" fill="#000" >24h</text>
<text x="49.10" y="510.20" font-size="11" text-anchor="start" font-weight="bold" fill="#000" >CpG</text>
<text transform="translate(44.40,430.10) rotate(-90)" font-size="10.7" text-anchor="middle" font-weight="bold">Normalized value</text>
<path d="M209.55 396.7 V388.75 H259.6 V451.8" fill="none" stroke="#000" stroke-width="1.3"/>
<text x="216" y="384.75" font-size="9.7" font-weight="bold"><tspan font-style="italic">P</tspan> = .019</text>
<line x1="345.25" y1="387.10" x2="345.25" y2="399.30" stroke="#000" stroke-width="1.5" />
<line x1="336.30" y1="387.10" x2="354.20" y2="387.10" stroke="#000" stroke-width="1.5" />
<rect x="328.70" y="399.30" width="33.40" height="94.25" fill="#fff" stroke="#000" stroke-width="2.0"/>
<line x1="394.35" y1="404.60" x2="394.35" y2="416.90" stroke="#000" stroke-width="1.5" />
<line x1="385.70" y1="404.60" x2="403.00" y2="404.60" stroke="#000" stroke-width="1.5" />
<rect x="377.00" y="415.90" width="34.90" height="77.65" fill="#000"/>
<rect x="427.30" y="463.50" width="32.70" height="30.05" fill="#fff" stroke="#000" stroke-width="2.0"/>
<rect x="475.50" y="484.50" width="34.70" height="9.05" fill="#000"/>
<line x1="320.50" y1="360.50" x2="320.50" y2="494.60" stroke="#000" stroke-width="2.1" />
<line x1="315.20" y1="493.55" x2="518.60" y2="493.55" stroke="#000" stroke-width="2.4" />
<text transform="translate(315.60,497.10) scale(0.955,1)" font-size="9.927499999999998" text-anchor="end" font-weight="bold" fill="#000" >0.000</text>
<line x1="315.20" y1="460.51" x2="320.50" y2="460.51" stroke="#000" stroke-width="1.8" />
<text transform="translate(315.60,464.06) scale(0.955,1)" font-size="9.927499999999998" text-anchor="end" font-weight="bold" fill="#000" >0.005</text>
<line x1="315.20" y1="427.48" x2="320.50" y2="427.48" stroke="#000" stroke-width="1.8" />
<text transform="translate(315.60,431.03) scale(0.955,1)" font-size="9.927499999999998" text-anchor="end" font-weight="bold" fill="#000" >0.010</text>
<line x1="315.20" y1="394.44" x2="320.50" y2="394.44" stroke="#000" stroke-width="1.8" />
<text transform="translate(315.60,397.99) scale(0.955,1)" font-size="9.927499999999998" text-anchor="end" font-weight="bold" fill="#000" >0.015</text>
<line x1="315.20" y1="361.40" x2="320.50" y2="361.40" stroke="#000" stroke-width="1.8" />
<text transform="translate(315.60,364.95) scale(0.955,1)" font-size="9.927499999999998" text-anchor="end" font-weight="bold" fill="#000" >0.020</text>
<text x="403.00" y="374.50" font-size="10.9" text-anchor="start" font-weight="bold" fill="#000" >CD300c</text>
<text x="347.00" y="509.96" font-size="13.3" text-anchor="middle" font-weight="bold" fill="#000" >−</text>
<text x="394.60" y="510.06" font-size="13.3" text-anchor="middle" font-weight="bold" fill="#000" >+</text>
<text x="441.30" y="509.96" font-size="13.3" text-anchor="middle" font-weight="bold" fill="#000" >−</text>
<text x="489.30" y="510.06" font-size="13.3" text-anchor="middle" font-weight="bold" fill="#000" >+</text>
<line x1="335.00" y1="512.10" x2="416.00" y2="512.10" stroke="#000" stroke-width="1.25" />
<line x1="428.00" y1="512.10" x2="510.00" y2="512.10" stroke="#000" stroke-width="1.25" />
<text x="374.50" y="526.60" font-size="11" text-anchor="middle" font-weight="bold" fill="#000" >2h</text>
<text x="465.00" y="526.60" font-size="11" text-anchor="middle" font-weight="bold" fill="#000" >24h</text>
<path d="M441.3 449.3 V430.45 H491.5 V468" fill="none" stroke="#000" stroke-width="1.25"/>
<text x="449.3" y="427.0" font-size="9.6" font-weight="bold"><tspan font-style="italic">P</tspan> = .049</text>
</svg>
</body>
</html>
